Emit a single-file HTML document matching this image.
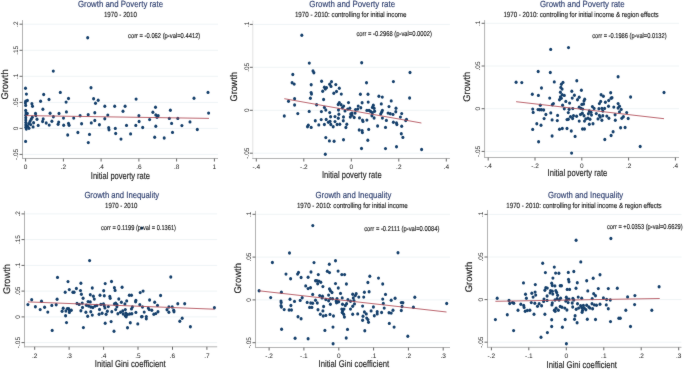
<!DOCTYPE html>
<html><head><meta charset="utf-8"><style>
html,body{margin:0;padding:0;background:#fff;}
svg{display:block;text-rendering:geometricPrecision;font-variant-ligatures:none;font-family:"Liberation Sans",sans-serif;}
</style></head><body>
<svg width="685" height="369" viewBox="0 0 685 369">
<defs><filter id="bl" x="0" y="0" width="100%" height="100%" color-interpolation-filters="sRGB"><feConvolveMatrix order="3" kernelMatrix="1 3 1 3 48 3 1 3 1" divisor="64" edgeMode="duplicate"/></filter></defs>
<g filter="url(#bl)"><rect width="685" height="369" fill="#fff"/>
<g fill="#143f6b"><line x1="23.5" y1="154.4" x2="218.0" y2="154.4" stroke="#eff4f6" stroke-width="1"/>
<line x1="23.5" y1="128.4" x2="218.0" y2="128.4" stroke="#eff4f6" stroke-width="1"/>
<line x1="23.5" y1="102.4" x2="218.0" y2="102.4" stroke="#eff4f6" stroke-width="1"/>
<line x1="23.5" y1="76.3" x2="218.0" y2="76.3" stroke="#eff4f6" stroke-width="1"/>
<line x1="23.5" y1="50.3" x2="218.0" y2="50.3" stroke="#eff4f6" stroke-width="1"/>
<line x1="23.5" y1="24.2" x2="218.0" y2="24.2" stroke="#eff4f6" stroke-width="1"/>
<ellipse cx="25.7" cy="110.5" rx="1.52" ry="1.72"/>
<ellipse cx="26.0" cy="112.9" rx="1.52" ry="1.72"/>
<ellipse cx="25.8" cy="115.3" rx="1.52" ry="1.72"/>
<ellipse cx="25.8" cy="117.7" rx="1.52" ry="1.72"/>
<ellipse cx="25.8" cy="120.1" rx="1.52" ry="1.72"/>
<ellipse cx="25.8" cy="122.5" rx="1.52" ry="1.72"/>
<ellipse cx="25.8" cy="124.9" rx="1.52" ry="1.72"/>
<ellipse cx="25.8" cy="127.3" rx="1.52" ry="1.72"/>
<ellipse cx="26.3" cy="129.0" rx="1.52" ry="1.72"/>
<ellipse cx="27.3" cy="113.5" rx="1.52" ry="1.72"/>
<ellipse cx="27.5" cy="126.2" rx="1.52" ry="1.72"/>
<ellipse cx="28.7" cy="123.8" rx="1.52" ry="1.72"/>
<ellipse cx="30.0" cy="121.4" rx="1.52" ry="1.72"/>
<ellipse cx="31.2" cy="119.3" rx="1.52" ry="1.72"/>
<ellipse cx="32.3" cy="117.2" rx="1.52" ry="1.72"/>
<ellipse cx="30.7" cy="124.6" rx="1.52" ry="1.72"/>
<ellipse cx="33.1" cy="126.9" rx="1.52" ry="1.72"/>
<ellipse cx="29.0" cy="128.2" rx="1.52" ry="1.72"/>
<ellipse cx="33.6" cy="122.8" rx="1.52" ry="1.72"/>
<ellipse cx="87.7" cy="37.8" rx="1.52" ry="1.72"/>
<ellipse cx="53.3" cy="71.1" rx="1.52" ry="1.72"/>
<ellipse cx="25.5" cy="88.3" rx="1.52" ry="1.72"/>
<ellipse cx="26.4" cy="94.1" rx="1.52" ry="1.72"/>
<ellipse cx="43.7" cy="94.5" rx="1.52" ry="1.72"/>
<ellipse cx="60.3" cy="92.4" rx="1.52" ry="1.72"/>
<ellipse cx="49.0" cy="99.5" rx="1.52" ry="1.72"/>
<ellipse cx="68.5" cy="98.5" rx="1.52" ry="1.72"/>
<ellipse cx="91.0" cy="87.7" rx="1.52" ry="1.72"/>
<ellipse cx="93.6" cy="98.8" rx="1.52" ry="1.72"/>
<ellipse cx="27.4" cy="100.5" rx="1.52" ry="1.72"/>
<ellipse cx="25.7" cy="101.3" rx="1.52" ry="1.72"/>
<ellipse cx="25.4" cy="103.1" rx="1.52" ry="1.72"/>
<ellipse cx="25.7" cy="105.4" rx="1.52" ry="1.72"/>
<ellipse cx="31.9" cy="103.7" rx="1.52" ry="1.72"/>
<ellipse cx="32.5" cy="106.3" rx="1.52" ry="1.72"/>
<ellipse cx="40.6" cy="101.3" rx="1.52" ry="1.72"/>
<ellipse cx="42.9" cy="109.3" rx="1.52" ry="1.72"/>
<ellipse cx="35.5" cy="113.5" rx="1.52" ry="1.72"/>
<ellipse cx="35.8" cy="115.6" rx="1.52" ry="1.72"/>
<ellipse cx="50.1" cy="113.2" rx="1.52" ry="1.72"/>
<ellipse cx="53.4" cy="116.8" rx="1.52" ry="1.72"/>
<ellipse cx="59.0" cy="113.5" rx="1.52" ry="1.72"/>
<ellipse cx="37.0" cy="119.2" rx="1.52" ry="1.72"/>
<ellipse cx="43.2" cy="118.9" rx="1.52" ry="1.72"/>
<ellipse cx="38.2" cy="125.4" rx="1.52" ry="1.72"/>
<ellipse cx="42.6" cy="121.5" rx="1.52" ry="1.72"/>
<ellipse cx="46.2" cy="123.0" rx="1.52" ry="1.72"/>
<ellipse cx="49.2" cy="125.1" rx="1.52" ry="1.72"/>
<ellipse cx="51.9" cy="121.2" rx="1.52" ry="1.72"/>
<ellipse cx="58.7" cy="122.1" rx="1.52" ry="1.72"/>
<ellipse cx="58.1" cy="124.2" rx="1.52" ry="1.72"/>
<ellipse cx="66.1" cy="102.1" rx="1.52" ry="1.72"/>
<ellipse cx="98.2" cy="100.2" rx="1.52" ry="1.72"/>
<ellipse cx="95.5" cy="103.2" rx="1.52" ry="1.72"/>
<ellipse cx="66.4" cy="111.9" rx="1.52" ry="1.72"/>
<ellipse cx="80.1" cy="115.8" rx="1.52" ry="1.72"/>
<ellipse cx="88.2" cy="114.7" rx="1.52" ry="1.72"/>
<ellipse cx="94.8" cy="112.7" rx="1.52" ry="1.72"/>
<ellipse cx="63.5" cy="118.1" rx="1.52" ry="1.72"/>
<ellipse cx="73.7" cy="118.1" rx="1.52" ry="1.72"/>
<ellipse cx="63.7" cy="125.2" rx="1.52" ry="1.72"/>
<ellipse cx="68.5" cy="123.4" rx="1.52" ry="1.72"/>
<ellipse cx="69.1" cy="125.3" rx="1.52" ry="1.72"/>
<ellipse cx="81.6" cy="123.8" rx="1.52" ry="1.72"/>
<ellipse cx="91.3" cy="122.9" rx="1.52" ry="1.72"/>
<ellipse cx="94.8" cy="120.5" rx="1.52" ry="1.72"/>
<ellipse cx="99.4" cy="124.7" rx="1.52" ry="1.72"/>
<ellipse cx="67.7" cy="135.0" rx="1.52" ry="1.72"/>
<ellipse cx="77.9" cy="132.5" rx="1.52" ry="1.72"/>
<ellipse cx="89.5" cy="134.4" rx="1.52" ry="1.72"/>
<ellipse cx="25.6" cy="141.4" rx="1.52" ry="1.72"/>
<ellipse cx="88.3" cy="142.6" rx="1.52" ry="1.72"/>
<ellipse cx="104.8" cy="106.3" rx="1.52" ry="1.72"/>
<ellipse cx="114.7" cy="106.3" rx="1.52" ry="1.72"/>
<ellipse cx="125.1" cy="106.3" rx="1.52" ry="1.72"/>
<ellipse cx="123.0" cy="111.3" rx="1.52" ry="1.72"/>
<ellipse cx="136.1" cy="99.1" rx="1.52" ry="1.72"/>
<ellipse cx="107.8" cy="115.1" rx="1.52" ry="1.72"/>
<ellipse cx="138.9" cy="115.7" rx="1.52" ry="1.72"/>
<ellipse cx="194.0" cy="98.2" rx="1.52" ry="1.72"/>
<ellipse cx="155.5" cy="107.3" rx="1.52" ry="1.72"/>
<ellipse cx="152.9" cy="112.3" rx="1.52" ry="1.72"/>
<ellipse cx="155.8" cy="114.9" rx="1.52" ry="1.72"/>
<ellipse cx="158.2" cy="115.8" rx="1.52" ry="1.72"/>
<ellipse cx="157.0" cy="117.2" rx="1.52" ry="1.72"/>
<ellipse cx="170.4" cy="110.2" rx="1.52" ry="1.72"/>
<ellipse cx="208.6" cy="113.1" rx="1.52" ry="1.72"/>
<ellipse cx="169.3" cy="118.4" rx="1.52" ry="1.72"/>
<ellipse cx="177.8" cy="118.4" rx="1.52" ry="1.72"/>
<ellipse cx="149.6" cy="119.6" rx="1.52" ry="1.72"/>
<ellipse cx="171.6" cy="123.4" rx="1.52" ry="1.72"/>
<ellipse cx="155.8" cy="126.2" rx="1.52" ry="1.72"/>
<ellipse cx="181.9" cy="125.6" rx="1.52" ry="1.72"/>
<ellipse cx="190.0" cy="121.9" rx="1.52" ry="1.72"/>
<ellipse cx="197.3" cy="129.5" rx="1.52" ry="1.72"/>
<ellipse cx="172.5" cy="132.4" rx="1.52" ry="1.72"/>
<ellipse cx="154.7" cy="137.3" rx="1.52" ry="1.72"/>
<ellipse cx="164.2" cy="138.0" rx="1.52" ry="1.72"/>
<ellipse cx="104.8" cy="118.8" rx="1.52" ry="1.72"/>
<ellipse cx="108.7" cy="127.8" rx="1.52" ry="1.72"/>
<ellipse cx="109.0" cy="129.8" rx="1.52" ry="1.72"/>
<ellipse cx="115.3" cy="128.4" rx="1.52" ry="1.72"/>
<ellipse cx="115.7" cy="133.5" rx="1.52" ry="1.72"/>
<ellipse cx="121.0" cy="139.1" rx="1.52" ry="1.72"/>
<ellipse cx="126.5" cy="125.4" rx="1.52" ry="1.72"/>
<ellipse cx="130.6" cy="133.9" rx="1.52" ry="1.72"/>
<ellipse cx="135.8" cy="125.4" rx="1.52" ry="1.72"/>
<ellipse cx="139.1" cy="121.5" rx="1.52" ry="1.72"/>
<ellipse cx="142.7" cy="127.5" rx="1.52" ry="1.72"/>
<ellipse cx="208.0" cy="92.4" rx="1.52" ry="1.72"/>
<line x1="25.6" y1="115.6" x2="209.0" y2="118.4" stroke="#b04a55" stroke-width="0.85"/>
<line x1="22.5" y1="20.1" x2="22.5" y2="159.0" stroke="#b2b2b2" stroke-width="1"/>
<line x1="22.0" y1="158.5" x2="218.0" y2="158.5" stroke="#b2b2b2" stroke-width="1"/>
<line x1="19.5" y1="154.4" x2="22.5" y2="154.4" stroke="#666666" stroke-width="1"/>
<text transform="translate(17.5,154.4) rotate(-90)" font-size="6.5" fill="#1a1a1a" stroke="#1a1a1a" stroke-width="0" text-anchor="middle">-.05</text>
<line x1="19.5" y1="128.4" x2="22.5" y2="128.4" stroke="#666666" stroke-width="1"/>
<text transform="translate(17.5,128.4) rotate(-90)" font-size="6.5" fill="#1a1a1a" stroke="#1a1a1a" stroke-width="0" text-anchor="middle">0</text>
<line x1="19.5" y1="102.4" x2="22.5" y2="102.4" stroke="#666666" stroke-width="1"/>
<text transform="translate(17.5,102.4) rotate(-90)" font-size="6.5" fill="#1a1a1a" stroke="#1a1a1a" stroke-width="0" text-anchor="middle">.05</text>
<line x1="19.5" y1="76.3" x2="22.5" y2="76.3" stroke="#666666" stroke-width="1"/>
<text transform="translate(17.5,76.3) rotate(-90)" font-size="6.5" fill="#1a1a1a" stroke="#1a1a1a" stroke-width="0" text-anchor="middle">.1</text>
<line x1="19.5" y1="50.3" x2="22.5" y2="50.3" stroke="#666666" stroke-width="1"/>
<text transform="translate(17.5,50.3) rotate(-90)" font-size="6.5" fill="#1a1a1a" stroke="#1a1a1a" stroke-width="0" text-anchor="middle">.15</text>
<line x1="19.5" y1="24.2" x2="22.5" y2="24.2" stroke="#666666" stroke-width="1"/>
<text transform="translate(17.5,24.2) rotate(-90)" font-size="6.5" fill="#1a1a1a" stroke="#1a1a1a" stroke-width="0" text-anchor="middle">.2</text>
<line x1="25.6" y1="158.5" x2="25.6" y2="161.5" stroke="#666666" stroke-width="1"/>
<text x="25.6" y="168.8" font-size="6.5" fill="#1a1a1a" stroke="#1a1a1a" stroke-width="0" text-anchor="middle">0</text>
<line x1="63.4" y1="158.5" x2="63.4" y2="161.5" stroke="#666666" stroke-width="1"/>
<text x="63.4" y="168.8" font-size="6.5" fill="#1a1a1a" stroke="#1a1a1a" stroke-width="0" text-anchor="middle">.2</text>
<line x1="101.1" y1="158.5" x2="101.1" y2="161.5" stroke="#666666" stroke-width="1"/>
<text x="101.1" y="168.8" font-size="6.5" fill="#1a1a1a" stroke="#1a1a1a" stroke-width="0" text-anchor="middle">.4</text>
<line x1="138.9" y1="158.5" x2="138.9" y2="161.5" stroke="#666666" stroke-width="1"/>
<text x="138.9" y="168.8" font-size="6.5" fill="#1a1a1a" stroke="#1a1a1a" stroke-width="0" text-anchor="middle">.6</text>
<line x1="176.6" y1="158.5" x2="176.6" y2="161.5" stroke="#666666" stroke-width="1"/>
<text x="176.6" y="168.8" font-size="6.5" fill="#1a1a1a" stroke="#1a1a1a" stroke-width="0" text-anchor="middle">.8</text>
<line x1="214.4" y1="158.5" x2="214.4" y2="161.5" stroke="#666666" stroke-width="1"/>
<text x="214.4" y="168.8" font-size="6.5" fill="#1a1a1a" stroke="#1a1a1a" stroke-width="0" text-anchor="middle">1</text>
<text x="78.0" y="7.3" font-size="9.0" fill="#2d3e6e" stroke="#2d3e6e" stroke-width="0.15" textLength="85.0" lengthAdjust="spacingAndGlyphs">Growth and Poverty rate</text>
<text x="103.9" y="17.4" font-size="7.4" fill="#1a1a1a" stroke="#1a1a1a" stroke-width="0.15" textLength="33.0" lengthAdjust="spacingAndGlyphs">1970 - 2010</text>
<text x="128.0" y="37.7" font-size="7.0" fill="#1a1a1a" stroke="#1a1a1a" stroke-width="0.15" textLength="72.3" lengthAdjust="spacingAndGlyphs">corr = -0.062 (p-val=0.4412)</text>
<text x="90.8" y="178.7" font-size="9.7" fill="#1a1a1a" stroke="#1a1a1a" stroke-width="0.15" textLength="59.2" lengthAdjust="spacingAndGlyphs">Initial poverty rate</text>
<text transform="translate(8.1,99.5) rotate(-90)" font-size="9.7" fill="#1a1a1a" stroke="#1a1a1a" stroke-width="0.15" textLength="30.1" lengthAdjust="spacingAndGlyphs">Growth</text></g>
<g fill="#143f6b"><line x1="253.8" y1="153.2" x2="449.9" y2="153.2" stroke="#eff4f6" stroke-width="1"/>
<line x1="253.8" y1="110.3" x2="449.9" y2="110.3" stroke="#eff4f6" stroke-width="1"/>
<line x1="253.8" y1="67.3" x2="449.9" y2="67.3" stroke="#eff4f6" stroke-width="1"/>
<line x1="253.8" y1="24.4" x2="449.9" y2="24.4" stroke="#eff4f6" stroke-width="1"/>
<ellipse cx="301.8" cy="35.2" rx="1.52" ry="1.72"/>
<ellipse cx="309.3" cy="63.1" rx="1.52" ry="1.72"/>
<ellipse cx="292.8" cy="74.5" rx="1.52" ry="1.72"/>
<ellipse cx="292.1" cy="82.7" rx="1.52" ry="1.72"/>
<ellipse cx="294.2" cy="84.1" rx="1.52" ry="1.72"/>
<ellipse cx="311.2" cy="84.7" rx="1.52" ry="1.72"/>
<ellipse cx="288.5" cy="101.3" rx="1.52" ry="1.72"/>
<ellipse cx="294.6" cy="98.7" rx="1.52" ry="1.72"/>
<ellipse cx="294.6" cy="105.0" rx="1.52" ry="1.72"/>
<ellipse cx="297.8" cy="113.6" rx="1.52" ry="1.72"/>
<ellipse cx="284.3" cy="116.0" rx="1.52" ry="1.72"/>
<ellipse cx="309.2" cy="111.4" rx="1.52" ry="1.72"/>
<ellipse cx="310.4" cy="98.3" rx="1.52" ry="1.72"/>
<ellipse cx="311.1" cy="92.6" rx="1.52" ry="1.72"/>
<ellipse cx="311.5" cy="94.1" rx="1.52" ry="1.72"/>
<ellipse cx="308.3" cy="125.2" rx="1.52" ry="1.72"/>
<ellipse cx="307.5" cy="126.7" rx="1.52" ry="1.72"/>
<ellipse cx="311.2" cy="127.4" rx="1.52" ry="1.72"/>
<ellipse cx="361.7" cy="62.8" rx="1.52" ry="1.72"/>
<ellipse cx="313.0" cy="71.0" rx="1.52" ry="1.72"/>
<ellipse cx="313.9" cy="72.8" rx="1.52" ry="1.72"/>
<ellipse cx="321.6" cy="81.3" rx="1.52" ry="1.72"/>
<ellipse cx="331.5" cy="81.8" rx="1.52" ry="1.72"/>
<ellipse cx="329.7" cy="84.2" rx="1.52" ry="1.72"/>
<ellipse cx="331.0" cy="86.4" rx="1.52" ry="1.72"/>
<ellipse cx="335.8" cy="84.6" rx="1.52" ry="1.72"/>
<ellipse cx="324.4" cy="87.3" rx="1.52" ry="1.72"/>
<ellipse cx="326.5" cy="87.7" rx="1.52" ry="1.72"/>
<ellipse cx="325.3" cy="89.0" rx="1.52" ry="1.72"/>
<ellipse cx="322.7" cy="91.2" rx="1.52" ry="1.72"/>
<ellipse cx="339.3" cy="88.3" rx="1.52" ry="1.72"/>
<ellipse cx="336.5" cy="91.5" rx="1.52" ry="1.72"/>
<ellipse cx="333.8" cy="93.2" rx="1.52" ry="1.72"/>
<ellipse cx="341.3" cy="94.1" rx="1.52" ry="1.72"/>
<ellipse cx="366.5" cy="82.7" rx="1.52" ry="1.72"/>
<ellipse cx="360.4" cy="94.3" rx="1.52" ry="1.72"/>
<ellipse cx="368.0" cy="94.3" rx="1.52" ry="1.72"/>
<ellipse cx="323.6" cy="99.5" rx="1.52" ry="1.72"/>
<ellipse cx="316.6" cy="104.8" rx="1.52" ry="1.72"/>
<ellipse cx="324.4" cy="107.4" rx="1.52" ry="1.72"/>
<ellipse cx="325.8" cy="110.0" rx="1.52" ry="1.72"/>
<ellipse cx="321.4" cy="111.6" rx="1.52" ry="1.72"/>
<ellipse cx="329.7" cy="112.6" rx="1.52" ry="1.72"/>
<ellipse cx="330.6" cy="116.8" rx="1.52" ry="1.72"/>
<ellipse cx="326.2" cy="119.5" rx="1.52" ry="1.72"/>
<ellipse cx="321.2" cy="119.6" rx="1.52" ry="1.72"/>
<ellipse cx="315.3" cy="120.8" rx="1.52" ry="1.72"/>
<ellipse cx="318.8" cy="124.9" rx="1.52" ry="1.72"/>
<ellipse cx="324.4" cy="124.5" rx="1.52" ry="1.72"/>
<ellipse cx="328.4" cy="122.3" rx="1.52" ry="1.72"/>
<ellipse cx="330.1" cy="121.4" rx="1.52" ry="1.72"/>
<ellipse cx="330.8" cy="124.5" rx="1.52" ry="1.72"/>
<ellipse cx="333.2" cy="126.8" rx="1.52" ry="1.72"/>
<ellipse cx="335.0" cy="116.6" rx="1.52" ry="1.72"/>
<ellipse cx="335.0" cy="121.6" rx="1.52" ry="1.72"/>
<ellipse cx="337.1" cy="124.5" rx="1.52" ry="1.72"/>
<ellipse cx="339.8" cy="124.2" rx="1.52" ry="1.72"/>
<ellipse cx="338.5" cy="110.0" rx="1.52" ry="1.72"/>
<ellipse cx="338.9" cy="114.2" rx="1.52" ry="1.72"/>
<ellipse cx="338.3" cy="118.3" rx="1.52" ry="1.72"/>
<ellipse cx="339.3" cy="102.6" rx="1.52" ry="1.72"/>
<ellipse cx="338.2" cy="104.5" rx="1.52" ry="1.72"/>
<ellipse cx="341.1" cy="104.8" rx="1.52" ry="1.72"/>
<ellipse cx="343.7" cy="106.1" rx="1.52" ry="1.72"/>
<ellipse cx="342.4" cy="107.8" rx="1.52" ry="1.72"/>
<ellipse cx="348.5" cy="102.6" rx="1.52" ry="1.72"/>
<ellipse cx="345.0" cy="110.9" rx="1.52" ry="1.72"/>
<ellipse cx="343.5" cy="117.0" rx="1.52" ry="1.72"/>
<ellipse cx="343.3" cy="120.8" rx="1.52" ry="1.72"/>
<ellipse cx="346.8" cy="124.2" rx="1.52" ry="1.72"/>
<ellipse cx="345.9" cy="127.5" rx="1.52" ry="1.72"/>
<ellipse cx="347.7" cy="109.1" rx="1.52" ry="1.72"/>
<ellipse cx="349.8" cy="108.3" rx="1.52" ry="1.72"/>
<ellipse cx="350.7" cy="114.0" rx="1.52" ry="1.72"/>
<ellipse cx="352.0" cy="113.1" rx="1.52" ry="1.72"/>
<ellipse cx="350.3" cy="117.0" rx="1.52" ry="1.72"/>
<ellipse cx="352.0" cy="115.3" rx="1.52" ry="1.72"/>
<ellipse cx="354.2" cy="117.5" rx="1.52" ry="1.72"/>
<ellipse cx="355.1" cy="113.1" rx="1.52" ry="1.72"/>
<ellipse cx="355.5" cy="109.6" rx="1.52" ry="1.72"/>
<ellipse cx="357.7" cy="109.1" rx="1.52" ry="1.72"/>
<ellipse cx="358.2" cy="106.1" rx="1.52" ry="1.72"/>
<ellipse cx="360.8" cy="107.8" rx="1.52" ry="1.72"/>
<ellipse cx="362.1" cy="102.8" rx="1.52" ry="1.72"/>
<ellipse cx="359.5" cy="117.9" rx="1.52" ry="1.72"/>
<ellipse cx="362.5" cy="120.1" rx="1.52" ry="1.72"/>
<ellipse cx="363.0" cy="121.4" rx="1.52" ry="1.72"/>
<ellipse cx="366.9" cy="120.1" rx="1.52" ry="1.72"/>
<ellipse cx="368.2" cy="102.1" rx="1.52" ry="1.72"/>
<ellipse cx="366.9" cy="110.4" rx="1.52" ry="1.72"/>
<ellipse cx="369.1" cy="110.4" rx="1.52" ry="1.72"/>
<ellipse cx="359.2" cy="130.0" rx="1.52" ry="1.72"/>
<ellipse cx="362.1" cy="130.6" rx="1.52" ry="1.72"/>
<ellipse cx="362.4" cy="132.6" rx="1.52" ry="1.72"/>
<ellipse cx="368.7" cy="129.4" rx="1.52" ry="1.72"/>
<ellipse cx="325.8" cy="137.6" rx="1.52" ry="1.72"/>
<ellipse cx="329.4" cy="140.9" rx="1.52" ry="1.72"/>
<ellipse cx="334.1" cy="141.3" rx="1.52" ry="1.72"/>
<ellipse cx="343.5" cy="139.8" rx="1.52" ry="1.72"/>
<ellipse cx="367.8" cy="140.2" rx="1.52" ry="1.72"/>
<ellipse cx="361.5" cy="148.5" rx="1.52" ry="1.72"/>
<ellipse cx="325.3" cy="154.2" rx="1.52" ry="1.72"/>
<ellipse cx="410.0" cy="72.5" rx="1.52" ry="1.72"/>
<ellipse cx="393.4" cy="81.6" rx="1.52" ry="1.72"/>
<ellipse cx="378.9" cy="96.3" rx="1.52" ry="1.72"/>
<ellipse cx="382.3" cy="97.1" rx="1.52" ry="1.72"/>
<ellipse cx="391.2" cy="100.9" rx="1.52" ry="1.72"/>
<ellipse cx="409.6" cy="98.0" rx="1.52" ry="1.72"/>
<ellipse cx="381.3" cy="103.9" rx="1.52" ry="1.72"/>
<ellipse cx="373.3" cy="105.3" rx="1.52" ry="1.72"/>
<ellipse cx="372.4" cy="107.4" rx="1.52" ry="1.72"/>
<ellipse cx="374.1" cy="108.3" rx="1.52" ry="1.72"/>
<ellipse cx="389.0" cy="106.6" rx="1.52" ry="1.72"/>
<ellipse cx="396.0" cy="108.3" rx="1.52" ry="1.72"/>
<ellipse cx="370.6" cy="111.4" rx="1.52" ry="1.72"/>
<ellipse cx="374.6" cy="111.2" rx="1.52" ry="1.72"/>
<ellipse cx="372.4" cy="112.7" rx="1.52" ry="1.72"/>
<ellipse cx="382.4" cy="110.5" rx="1.52" ry="1.72"/>
<ellipse cx="381.6" cy="112.3" rx="1.52" ry="1.72"/>
<ellipse cx="380.7" cy="114.0" rx="1.52" ry="1.72"/>
<ellipse cx="388.1" cy="113.1" rx="1.52" ry="1.72"/>
<ellipse cx="390.3" cy="113.8" rx="1.52" ry="1.72"/>
<ellipse cx="393.0" cy="114.4" rx="1.52" ry="1.72"/>
<ellipse cx="395.8" cy="111.8" rx="1.52" ry="1.72"/>
<ellipse cx="401.7" cy="113.6" rx="1.52" ry="1.72"/>
<ellipse cx="400.4" cy="117.1" rx="1.52" ry="1.72"/>
<ellipse cx="406.5" cy="119.4" rx="1.52" ry="1.72"/>
<ellipse cx="405.7" cy="120.6" rx="1.52" ry="1.72"/>
<ellipse cx="371.9" cy="115.8" rx="1.52" ry="1.72"/>
<ellipse cx="374.1" cy="118.0" rx="1.52" ry="1.72"/>
<ellipse cx="382.4" cy="118.1" rx="1.52" ry="1.72"/>
<ellipse cx="386.4" cy="120.4" rx="1.52" ry="1.72"/>
<ellipse cx="393.4" cy="122.3" rx="1.52" ry="1.72"/>
<ellipse cx="396.5" cy="122.9" rx="1.52" ry="1.72"/>
<ellipse cx="396.9" cy="124.5" rx="1.52" ry="1.72"/>
<ellipse cx="377.6" cy="126.0" rx="1.52" ry="1.72"/>
<ellipse cx="385.5" cy="127.4" rx="1.52" ry="1.72"/>
<ellipse cx="401.7" cy="126.3" rx="1.52" ry="1.72"/>
<ellipse cx="401.3" cy="133.7" rx="1.52" ry="1.72"/>
<ellipse cx="402.9" cy="137.4" rx="1.52" ry="1.72"/>
<ellipse cx="385.5" cy="148.6" rx="1.52" ry="1.72"/>
<ellipse cx="396.5" cy="146.8" rx="1.52" ry="1.72"/>
<ellipse cx="421.6" cy="149.5" rx="1.52" ry="1.72"/>
<line x1="284.3" y1="98.7" x2="421.4" y2="123.0" stroke="#b04a55" stroke-width="0.85"/>
<line x1="252.8" y1="20.6" x2="252.8" y2="159.0" stroke="#e2e2e2" stroke-width="1"/>
<line x1="252.3" y1="158.5" x2="449.9" y2="158.5" stroke="#b2b2b2" stroke-width="1"/>
<line x1="249.8" y1="153.2" x2="252.8" y2="153.2" stroke="#666666" stroke-width="1"/>
<text transform="translate(248.5,153.2) rotate(-90)" font-size="6.5" fill="#1a1a1a" stroke="#1a1a1a" stroke-width="0" text-anchor="middle">-.05</text>
<line x1="249.8" y1="110.3" x2="252.8" y2="110.3" stroke="#666666" stroke-width="1"/>
<text transform="translate(248.5,110.3) rotate(-90)" font-size="6.5" fill="#1a1a1a" stroke="#1a1a1a" stroke-width="0" text-anchor="middle">0</text>
<line x1="249.8" y1="67.3" x2="252.8" y2="67.3" stroke="#666666" stroke-width="1"/>
<text transform="translate(248.5,67.3) rotate(-90)" font-size="6.5" fill="#1a1a1a" stroke="#1a1a1a" stroke-width="0" text-anchor="middle">.05</text>
<line x1="249.8" y1="24.4" x2="252.8" y2="24.4" stroke="#666666" stroke-width="1"/>
<text transform="translate(248.5,24.4) rotate(-90)" font-size="6.5" fill="#1a1a1a" stroke="#1a1a1a" stroke-width="0" text-anchor="middle">.1</text>
<line x1="256.3" y1="158.5" x2="256.3" y2="161.5" stroke="#666666" stroke-width="1"/>
<text x="256.3" y="169.3" font-size="6.5" fill="#1a1a1a" stroke="#1a1a1a" stroke-width="0" text-anchor="middle">-.4</text>
<line x1="303.8" y1="158.5" x2="303.8" y2="161.5" stroke="#666666" stroke-width="1"/>
<text x="303.8" y="169.3" font-size="6.5" fill="#1a1a1a" stroke="#1a1a1a" stroke-width="0" text-anchor="middle">-.2</text>
<line x1="351.3" y1="158.5" x2="351.3" y2="161.5" stroke="#666666" stroke-width="1"/>
<text x="351.3" y="169.3" font-size="6.5" fill="#1a1a1a" stroke="#1a1a1a" stroke-width="0" text-anchor="middle">0</text>
<line x1="398.8" y1="158.5" x2="398.8" y2="161.5" stroke="#666666" stroke-width="1"/>
<text x="398.8" y="169.3" font-size="6.5" fill="#1a1a1a" stroke="#1a1a1a" stroke-width="0" text-anchor="middle">.2</text>
<line x1="446.3" y1="158.5" x2="446.3" y2="161.5" stroke="#666666" stroke-width="1"/>
<text x="446.3" y="169.3" font-size="6.5" fill="#1a1a1a" stroke="#1a1a1a" stroke-width="0" text-anchor="middle">.4</text>
<text x="309.3" y="7.2" font-size="9.0" fill="#2d3e6e" stroke="#2d3e6e" stroke-width="0.15" textLength="85.8" lengthAdjust="spacingAndGlyphs">Growth and Poverty rate</text>
<text x="294.9" y="17.3" font-size="7.4" fill="#1a1a1a" stroke="#1a1a1a" stroke-width="0.15" textLength="111.6" lengthAdjust="spacingAndGlyphs">1970 - 2010: controlling for initial income</text>
<text x="356.4" y="35.9" font-size="7.0" fill="#1a1a1a" stroke="#1a1a1a" stroke-width="0.15" textLength="75.5" lengthAdjust="spacingAndGlyphs">corr = -0.2968 (p-val=0.0002)</text>
<text x="322.0" y="178.0" font-size="9.7" fill="#1a1a1a" stroke="#1a1a1a" stroke-width="0.15" textLength="59.6" lengthAdjust="spacingAndGlyphs">Initial poverty rate</text>
<text transform="translate(237.2,101.4) rotate(-90)" font-size="9.7" fill="#1a1a1a" stroke="#1a1a1a" stroke-width="0.15" textLength="29.4" lengthAdjust="spacingAndGlyphs">Growth</text></g>
<g fill="#143f6b"><line x1="485.6" y1="151.4" x2="679.0" y2="151.4" stroke="#eff4f6" stroke-width="1"/>
<line x1="485.6" y1="108.7" x2="679.0" y2="108.7" stroke="#eff4f6" stroke-width="1"/>
<line x1="485.6" y1="66.0" x2="679.0" y2="66.0" stroke="#eff4f6" stroke-width="1"/>
<line x1="485.6" y1="23.3" x2="679.0" y2="23.3" stroke="#eff4f6" stroke-width="1"/>
<ellipse cx="550.7" cy="49.4" rx="1.52" ry="1.72"/>
<ellipse cx="568.5" cy="47.6" rx="1.52" ry="1.72"/>
<ellipse cx="538.2" cy="71.5" rx="1.52" ry="1.72"/>
<ellipse cx="516.1" cy="82.2" rx="1.52" ry="1.72"/>
<ellipse cx="521.8" cy="82.6" rx="1.52" ry="1.72"/>
<ellipse cx="541.5" cy="88.0" rx="1.52" ry="1.72"/>
<ellipse cx="532.3" cy="94.3" rx="1.52" ry="1.72"/>
<ellipse cx="538.4" cy="95.4" rx="1.52" ry="1.72"/>
<ellipse cx="540.3" cy="105.2" rx="1.52" ry="1.72"/>
<ellipse cx="532.7" cy="109.1" rx="1.52" ry="1.72"/>
<ellipse cx="533.2" cy="112.4" rx="1.52" ry="1.72"/>
<ellipse cx="538.0" cy="109.6" rx="1.52" ry="1.72"/>
<ellipse cx="539.7" cy="109.8" rx="1.52" ry="1.72"/>
<ellipse cx="541.5" cy="109.8" rx="1.52" ry="1.72"/>
<ellipse cx="543.7" cy="110.0" rx="1.52" ry="1.72"/>
<ellipse cx="544.1" cy="118.6" rx="1.52" ry="1.72"/>
<ellipse cx="536.8" cy="123.8" rx="1.52" ry="1.72"/>
<ellipse cx="541.0" cy="125.2" rx="1.52" ry="1.72"/>
<ellipse cx="532.7" cy="129.4" rx="1.52" ry="1.72"/>
<ellipse cx="538.6" cy="141.8" rx="1.52" ry="1.72"/>
<ellipse cx="550.3" cy="72.5" rx="1.52" ry="1.72"/>
<ellipse cx="554.3" cy="81.9" rx="1.52" ry="1.72"/>
<ellipse cx="563.0" cy="82.4" rx="1.52" ry="1.72"/>
<ellipse cx="561.4" cy="84.3" rx="1.52" ry="1.72"/>
<ellipse cx="560.8" cy="87.4" rx="1.52" ry="1.72"/>
<ellipse cx="562.1" cy="89.1" rx="1.52" ry="1.72"/>
<ellipse cx="560.4" cy="92.2" rx="1.52" ry="1.72"/>
<ellipse cx="576.8" cy="80.8" rx="1.52" ry="1.72"/>
<ellipse cx="571.8" cy="91.3" rx="1.52" ry="1.72"/>
<ellipse cx="581.4" cy="90.3" rx="1.52" ry="1.72"/>
<ellipse cx="549.7" cy="98.1" rx="1.52" ry="1.72"/>
<ellipse cx="562.1" cy="94.8" rx="1.52" ry="1.72"/>
<ellipse cx="564.3" cy="95.4" rx="1.52" ry="1.72"/>
<ellipse cx="560.4" cy="97.0" rx="1.52" ry="1.72"/>
<ellipse cx="561.3" cy="98.3" rx="1.52" ry="1.72"/>
<ellipse cx="559.5" cy="99.8" rx="1.52" ry="1.72"/>
<ellipse cx="574.4" cy="95.3" rx="1.52" ry="1.72"/>
<ellipse cx="572.2" cy="98.1" rx="1.52" ry="1.72"/>
<ellipse cx="579.2" cy="97.2" rx="1.52" ry="1.72"/>
<ellipse cx="577.5" cy="99.8" rx="1.52" ry="1.72"/>
<ellipse cx="565.8" cy="101.4" rx="1.52" ry="1.72"/>
<ellipse cx="569.6" cy="103.1" rx="1.52" ry="1.72"/>
<ellipse cx="584.7" cy="99.2" rx="1.52" ry="1.72"/>
<ellipse cx="584.0" cy="100.9" rx="1.52" ry="1.72"/>
<ellipse cx="601.1" cy="94.8" rx="1.52" ry="1.72"/>
<ellipse cx="553.4" cy="103.6" rx="1.52" ry="1.72"/>
<ellipse cx="552.3" cy="104.7" rx="1.52" ry="1.72"/>
<ellipse cx="562.6" cy="105.3" rx="1.52" ry="1.72"/>
<ellipse cx="564.3" cy="108.8" rx="1.52" ry="1.72"/>
<ellipse cx="569.1" cy="109.3" rx="1.52" ry="1.72"/>
<ellipse cx="572.8" cy="108.6" rx="1.52" ry="1.72"/>
<ellipse cx="568.3" cy="112.6" rx="1.52" ry="1.72"/>
<ellipse cx="581.8" cy="104.4" rx="1.52" ry="1.72"/>
<ellipse cx="583.6" cy="104.0" rx="1.52" ry="1.72"/>
<ellipse cx="579.2" cy="107.3" rx="1.52" ry="1.72"/>
<ellipse cx="581.0" cy="108.4" rx="1.52" ry="1.72"/>
<ellipse cx="582.7" cy="109.1" rx="1.52" ry="1.72"/>
<ellipse cx="599.4" cy="103.6" rx="1.52" ry="1.72"/>
<ellipse cx="600.7" cy="101.4" rx="1.52" ry="1.72"/>
<ellipse cx="592.4" cy="106.6" rx="1.52" ry="1.72"/>
<ellipse cx="594.1" cy="108.4" rx="1.52" ry="1.72"/>
<ellipse cx="598.9" cy="108.8" rx="1.52" ry="1.72"/>
<ellipse cx="589.3" cy="111.0" rx="1.52" ry="1.72"/>
<ellipse cx="591.0" cy="112.3" rx="1.52" ry="1.72"/>
<ellipse cx="588.4" cy="113.8" rx="1.52" ry="1.72"/>
<ellipse cx="591.5" cy="115.0" rx="1.52" ry="1.72"/>
<ellipse cx="596.3" cy="113.6" rx="1.52" ry="1.72"/>
<ellipse cx="545.9" cy="114.5" rx="1.52" ry="1.72"/>
<ellipse cx="550.8" cy="112.9" rx="1.52" ry="1.72"/>
<ellipse cx="557.6" cy="115.4" rx="1.52" ry="1.72"/>
<ellipse cx="580.5" cy="114.5" rx="1.52" ry="1.72"/>
<ellipse cx="582.3" cy="113.2" rx="1.52" ry="1.72"/>
<ellipse cx="584.0" cy="115.8" rx="1.52" ry="1.72"/>
<ellipse cx="570.5" cy="116.7" rx="1.52" ry="1.72"/>
<ellipse cx="573.5" cy="115.8" rx="1.52" ry="1.72"/>
<ellipse cx="576.6" cy="116.3" rx="1.52" ry="1.72"/>
<ellipse cx="572.6" cy="118.5" rx="1.52" ry="1.72"/>
<ellipse cx="567.0" cy="119.6" rx="1.52" ry="1.72"/>
<ellipse cx="568.3" cy="119.3" rx="1.52" ry="1.72"/>
<ellipse cx="552.1" cy="119.9" rx="1.52" ry="1.72"/>
<ellipse cx="557.3" cy="120.6" rx="1.52" ry="1.72"/>
<ellipse cx="579.2" cy="121.1" rx="1.52" ry="1.72"/>
<ellipse cx="585.8" cy="118.9" rx="1.52" ry="1.72"/>
<ellipse cx="588.0" cy="118.2" rx="1.52" ry="1.72"/>
<ellipse cx="590.0" cy="119.3" rx="1.52" ry="1.72"/>
<ellipse cx="599.4" cy="115.4" rx="1.52" ry="1.72"/>
<ellipse cx="600.2" cy="117.1" rx="1.52" ry="1.72"/>
<ellipse cx="598.0" cy="118.9" rx="1.52" ry="1.72"/>
<ellipse cx="584.5" cy="121.1" rx="1.52" ry="1.72"/>
<ellipse cx="589.3" cy="124.3" rx="1.52" ry="1.72"/>
<ellipse cx="593.0" cy="123.7" rx="1.52" ry="1.72"/>
<ellipse cx="559.5" cy="129.2" rx="1.52" ry="1.72"/>
<ellipse cx="562.3" cy="128.5" rx="1.52" ry="1.72"/>
<ellipse cx="567.0" cy="128.5" rx="1.52" ry="1.72"/>
<ellipse cx="571.3" cy="131.0" rx="1.52" ry="1.72"/>
<ellipse cx="582.5" cy="129.0" rx="1.52" ry="1.72"/>
<ellipse cx="584.5" cy="129.0" rx="1.52" ry="1.72"/>
<ellipse cx="552.1" cy="136.0" rx="1.52" ry="1.72"/>
<ellipse cx="575.1" cy="136.4" rx="1.52" ry="1.72"/>
<ellipse cx="618.1" cy="76.7" rx="1.52" ry="1.72"/>
<ellipse cx="610.7" cy="92.8" rx="1.52" ry="1.72"/>
<ellipse cx="603.4" cy="96.3" rx="1.52" ry="1.72"/>
<ellipse cx="612.0" cy="97.7" rx="1.52" ry="1.72"/>
<ellipse cx="611.0" cy="98.3" rx="1.52" ry="1.72"/>
<ellipse cx="630.6" cy="97.0" rx="1.52" ry="1.72"/>
<ellipse cx="608.7" cy="100.5" rx="1.52" ry="1.72"/>
<ellipse cx="605.4" cy="102.3" rx="1.52" ry="1.72"/>
<ellipse cx="608.5" cy="106.2" rx="1.52" ry="1.72"/>
<ellipse cx="613.8" cy="107.1" rx="1.52" ry="1.72"/>
<ellipse cx="618.1" cy="103.6" rx="1.52" ry="1.72"/>
<ellipse cx="619.5" cy="106.2" rx="1.52" ry="1.72"/>
<ellipse cx="618.1" cy="108.0" rx="1.52" ry="1.72"/>
<ellipse cx="621.2" cy="109.4" rx="1.52" ry="1.72"/>
<ellipse cx="604.6" cy="108.4" rx="1.52" ry="1.72"/>
<ellipse cx="601.9" cy="108.4" rx="1.52" ry="1.72"/>
<ellipse cx="602.8" cy="111.0" rx="1.52" ry="1.72"/>
<ellipse cx="619.5" cy="111.9" rx="1.52" ry="1.72"/>
<ellipse cx="626.7" cy="112.6" rx="1.52" ry="1.72"/>
<ellipse cx="615.1" cy="114.7" rx="1.52" ry="1.72"/>
<ellipse cx="602.8" cy="115.8" rx="1.52" ry="1.72"/>
<ellipse cx="606.8" cy="116.1" rx="1.52" ry="1.72"/>
<ellipse cx="608.9" cy="118.2" rx="1.52" ry="1.72"/>
<ellipse cx="623.4" cy="116.7" rx="1.52" ry="1.72"/>
<ellipse cx="621.8" cy="118.2" rx="1.52" ry="1.72"/>
<ellipse cx="628.2" cy="118.5" rx="1.52" ry="1.72"/>
<ellipse cx="615.3" cy="120.2" rx="1.52" ry="1.72"/>
<ellipse cx="601.9" cy="120.2" rx="1.52" ry="1.72"/>
<ellipse cx="620.6" cy="127.8" rx="1.52" ry="1.72"/>
<ellipse cx="625.1" cy="127.5" rx="1.52" ry="1.72"/>
<ellipse cx="613.1" cy="131.8" rx="1.52" ry="1.72"/>
<ellipse cx="611.1" cy="135.5" rx="1.52" ry="1.72"/>
<ellipse cx="604.8" cy="139.5" rx="1.52" ry="1.72"/>
<ellipse cx="640.2" cy="146.5" rx="1.52" ry="1.72"/>
<ellipse cx="664.0" cy="92.5" rx="1.52" ry="1.72"/>
<ellipse cx="571.6" cy="153.1" rx="1.52" ry="1.72"/>
<line x1="516.1" y1="101.7" x2="664.0" y2="118.7" stroke="#b04a55" stroke-width="0.85"/>
<line x1="484.6" y1="20.1" x2="484.6" y2="158.0" stroke="#b2b2b2" stroke-width="1"/>
<line x1="484.1" y1="157.5" x2="679.0" y2="157.5" stroke="#b2b2b2" stroke-width="1"/>
<line x1="481.6" y1="151.4" x2="484.6" y2="151.4" stroke="#666666" stroke-width="1"/>
<text transform="translate(480.2,151.4) rotate(-90)" font-size="6.5" fill="#1a1a1a" stroke="#1a1a1a" stroke-width="0" text-anchor="middle">-.05</text>
<line x1="481.6" y1="108.7" x2="484.6" y2="108.7" stroke="#666666" stroke-width="1"/>
<text transform="translate(480.2,108.7) rotate(-90)" font-size="6.5" fill="#1a1a1a" stroke="#1a1a1a" stroke-width="0" text-anchor="middle">0</text>
<line x1="481.6" y1="66.0" x2="484.6" y2="66.0" stroke="#666666" stroke-width="1"/>
<text transform="translate(480.2,66.0) rotate(-90)" font-size="6.5" fill="#1a1a1a" stroke="#1a1a1a" stroke-width="0" text-anchor="middle">.05</text>
<line x1="481.6" y1="23.3" x2="484.6" y2="23.3" stroke="#666666" stroke-width="1"/>
<text transform="translate(480.2,23.3) rotate(-90)" font-size="6.5" fill="#1a1a1a" stroke="#1a1a1a" stroke-width="0" text-anchor="middle">.1</text>
<line x1="488.2" y1="157.5" x2="488.2" y2="160.5" stroke="#666666" stroke-width="1"/>
<text x="488.2" y="167.8" font-size="6.5" fill="#1a1a1a" stroke="#1a1a1a" stroke-width="0" text-anchor="middle">-.4</text>
<line x1="535.0" y1="157.5" x2="535.0" y2="160.5" stroke="#666666" stroke-width="1"/>
<text x="535.0" y="167.8" font-size="6.5" fill="#1a1a1a" stroke="#1a1a1a" stroke-width="0" text-anchor="middle">-.2</text>
<line x1="581.8" y1="157.5" x2="581.8" y2="160.5" stroke="#666666" stroke-width="1"/>
<text x="581.8" y="167.8" font-size="6.5" fill="#1a1a1a" stroke="#1a1a1a" stroke-width="0" text-anchor="middle">0</text>
<line x1="628.6" y1="157.5" x2="628.6" y2="160.5" stroke="#666666" stroke-width="1"/>
<text x="628.6" y="167.8" font-size="6.5" fill="#1a1a1a" stroke="#1a1a1a" stroke-width="0" text-anchor="middle">.2</text>
<line x1="675.4" y1="157.5" x2="675.4" y2="160.5" stroke="#666666" stroke-width="1"/>
<text x="675.4" y="167.8" font-size="6.5" fill="#1a1a1a" stroke="#1a1a1a" stroke-width="0" text-anchor="middle">.4</text>
<text x="540.0" y="7.2" font-size="9.0" fill="#2d3e6e" stroke="#2d3e6e" stroke-width="0.15" textLength="84.6" lengthAdjust="spacingAndGlyphs">Growth and Poverty rate</text>
<text x="503.4" y="17.1" font-size="7.4" fill="#1a1a1a" stroke="#1a1a1a" stroke-width="0.15" textLength="155.3" lengthAdjust="spacingAndGlyphs">1970 - 2010: controlling for initial income &amp; region effects</text>
<text x="592.2" y="38.1" font-size="7.0" fill="#1a1a1a" stroke="#1a1a1a" stroke-width="0.15" textLength="74.4" lengthAdjust="spacingAndGlyphs">corr = -0.1986 (p-val=0.0132)</text>
<text x="547.6" y="175.5" font-size="9.7" fill="#1a1a1a" stroke="#1a1a1a" stroke-width="0.15" textLength="59.7" lengthAdjust="spacingAndGlyphs">Initial poverty rate</text>
<text transform="translate(470.2,101.7) rotate(-90)" font-size="9.7" fill="#1a1a1a" stroke="#1a1a1a" stroke-width="0.15" textLength="30.0" lengthAdjust="spacingAndGlyphs">Growth</text></g>
<g fill="#143f6b"><line x1="25.5" y1="342.6" x2="217.2" y2="342.6" stroke="#eff4f6" stroke-width="1"/>
<line x1="25.5" y1="316.9" x2="217.2" y2="316.9" stroke="#eff4f6" stroke-width="1"/>
<line x1="25.5" y1="291.1" x2="217.2" y2="291.1" stroke="#eff4f6" stroke-width="1"/>
<line x1="25.5" y1="265.4" x2="217.2" y2="265.4" stroke="#eff4f6" stroke-width="1"/>
<line x1="25.5" y1="239.6" x2="217.2" y2="239.6" stroke="#eff4f6" stroke-width="1"/>
<line x1="25.5" y1="213.9" x2="217.2" y2="213.9" stroke="#eff4f6" stroke-width="1"/>
<ellipse cx="141.8" cy="228.1" rx="1.52" ry="1.72"/>
<ellipse cx="57.5" cy="277.4" rx="1.52" ry="1.72"/>
<ellipse cx="68.0" cy="281.6" rx="1.52" ry="1.72"/>
<ellipse cx="80.9" cy="283.2" rx="1.52" ry="1.72"/>
<ellipse cx="69.3" cy="289.6" rx="1.52" ry="1.72"/>
<ellipse cx="76.4" cy="288.5" rx="1.52" ry="1.72"/>
<ellipse cx="65.2" cy="292.3" rx="1.52" ry="1.72"/>
<ellipse cx="72.9" cy="292.3" rx="1.52" ry="1.72"/>
<ellipse cx="74.1" cy="292.3" rx="1.52" ry="1.72"/>
<ellipse cx="80.5" cy="290.6" rx="1.52" ry="1.72"/>
<ellipse cx="81.4" cy="294.3" rx="1.52" ry="1.72"/>
<ellipse cx="83.1" cy="298.3" rx="1.52" ry="1.72"/>
<ellipse cx="31.7" cy="299.8" rx="1.52" ry="1.72"/>
<ellipse cx="41.5" cy="301.3" rx="1.52" ry="1.72"/>
<ellipse cx="57.1" cy="299.3" rx="1.52" ry="1.72"/>
<ellipse cx="27.9" cy="304.6" rx="1.52" ry="1.72"/>
<ellipse cx="35.4" cy="306.8" rx="1.52" ry="1.72"/>
<ellipse cx="40.2" cy="309.6" rx="1.52" ry="1.72"/>
<ellipse cx="44.6" cy="307.3" rx="1.52" ry="1.72"/>
<ellipse cx="47.8" cy="312.1" rx="1.52" ry="1.72"/>
<ellipse cx="51.8" cy="305.4" rx="1.52" ry="1.72"/>
<ellipse cx="56.2" cy="304.8" rx="1.52" ry="1.72"/>
<ellipse cx="63.2" cy="308.3" rx="1.52" ry="1.72"/>
<ellipse cx="62.1" cy="311.2" rx="1.52" ry="1.72"/>
<ellipse cx="65.9" cy="311.0" rx="1.52" ry="1.72"/>
<ellipse cx="67.3" cy="308.6" rx="1.52" ry="1.72"/>
<ellipse cx="68.7" cy="308.8" rx="1.52" ry="1.72"/>
<ellipse cx="69.5" cy="310.5" rx="1.52" ry="1.72"/>
<ellipse cx="71.3" cy="310.3" rx="1.52" ry="1.72"/>
<ellipse cx="69.4" cy="312.4" rx="1.52" ry="1.72"/>
<ellipse cx="65.6" cy="315.8" rx="1.52" ry="1.72"/>
<ellipse cx="77.0" cy="303.5" rx="1.52" ry="1.72"/>
<ellipse cx="79.2" cy="304.4" rx="1.52" ry="1.72"/>
<ellipse cx="82.2" cy="303.1" rx="1.52" ry="1.72"/>
<ellipse cx="82.5" cy="307.5" rx="1.52" ry="1.72"/>
<ellipse cx="80.9" cy="310.7" rx="1.52" ry="1.72"/>
<ellipse cx="66.5" cy="322.6" rx="1.52" ry="1.72"/>
<ellipse cx="52.2" cy="330.4" rx="1.52" ry="1.72"/>
<ellipse cx="83.4" cy="327.6" rx="1.52" ry="1.72"/>
<ellipse cx="89.6" cy="260.6" rx="1.52" ry="1.72"/>
<ellipse cx="92.3" cy="288.0" rx="1.52" ry="1.72"/>
<ellipse cx="105.2" cy="283.6" rx="1.52" ry="1.72"/>
<ellipse cx="111.5" cy="281.5" rx="1.52" ry="1.72"/>
<ellipse cx="114.4" cy="287.8" rx="1.52" ry="1.72"/>
<ellipse cx="122.1" cy="287.2" rx="1.52" ry="1.72"/>
<ellipse cx="115.1" cy="290.4" rx="1.52" ry="1.72"/>
<ellipse cx="103.7" cy="290.8" rx="1.52" ry="1.72"/>
<ellipse cx="90.3" cy="294.8" rx="1.52" ry="1.72"/>
<ellipse cx="93.4" cy="296.3" rx="1.52" ry="1.72"/>
<ellipse cx="94.3" cy="299.1" rx="1.52" ry="1.72"/>
<ellipse cx="100.0" cy="295.2" rx="1.52" ry="1.72"/>
<ellipse cx="104.3" cy="295.8" rx="1.52" ry="1.72"/>
<ellipse cx="109.8" cy="296.5" rx="1.52" ry="1.72"/>
<ellipse cx="110.2" cy="298.3" rx="1.52" ry="1.72"/>
<ellipse cx="118.8" cy="299.0" rx="1.52" ry="1.72"/>
<ellipse cx="129.3" cy="295.2" rx="1.52" ry="1.72"/>
<ellipse cx="131.5" cy="295.2" rx="1.52" ry="1.72"/>
<ellipse cx="140.2" cy="292.6" rx="1.52" ry="1.72"/>
<ellipse cx="88.1" cy="301.6" rx="1.52" ry="1.72"/>
<ellipse cx="90.3" cy="301.9" rx="1.52" ry="1.72"/>
<ellipse cx="121.4" cy="302.2" rx="1.52" ry="1.72"/>
<ellipse cx="126.7" cy="300.9" rx="1.52" ry="1.72"/>
<ellipse cx="135.9" cy="300.4" rx="1.52" ry="1.72"/>
<ellipse cx="135.6" cy="301.8" rx="1.52" ry="1.72"/>
<ellipse cx="86.4" cy="305.3" rx="1.52" ry="1.72"/>
<ellipse cx="88.6" cy="306.0" rx="1.52" ry="1.72"/>
<ellipse cx="90.8" cy="307.0" rx="1.52" ry="1.72"/>
<ellipse cx="92.9" cy="307.5" rx="1.52" ry="1.72"/>
<ellipse cx="95.1" cy="306.1" rx="1.52" ry="1.72"/>
<ellipse cx="96.9" cy="305.4" rx="1.52" ry="1.72"/>
<ellipse cx="100.8" cy="304.4" rx="1.52" ry="1.72"/>
<ellipse cx="103.5" cy="304.0" rx="1.52" ry="1.72"/>
<ellipse cx="104.3" cy="305.7" rx="1.52" ry="1.72"/>
<ellipse cx="104.9" cy="307.9" rx="1.52" ry="1.72"/>
<ellipse cx="108.3" cy="306.6" rx="1.52" ry="1.72"/>
<ellipse cx="114.4" cy="304.0" rx="1.52" ry="1.72"/>
<ellipse cx="115.7" cy="303.1" rx="1.52" ry="1.72"/>
<ellipse cx="117.0" cy="304.8" rx="1.52" ry="1.72"/>
<ellipse cx="116.9" cy="306.8" rx="1.52" ry="1.72"/>
<ellipse cx="124.9" cy="304.0" rx="1.52" ry="1.72"/>
<ellipse cx="132.4" cy="307.0" rx="1.52" ry="1.72"/>
<ellipse cx="131.5" cy="308.9" rx="1.52" ry="1.72"/>
<ellipse cx="139.8" cy="304.8" rx="1.52" ry="1.72"/>
<ellipse cx="99.5" cy="309.5" rx="1.52" ry="1.72"/>
<ellipse cx="115.7" cy="309.6" rx="1.52" ry="1.72"/>
<ellipse cx="107.4" cy="311.2" rx="1.52" ry="1.72"/>
<ellipse cx="111.8" cy="311.8" rx="1.52" ry="1.72"/>
<ellipse cx="85.9" cy="312.3" rx="1.52" ry="1.72"/>
<ellipse cx="90.8" cy="311.8" rx="1.52" ry="1.72"/>
<ellipse cx="87.7" cy="316.2" rx="1.52" ry="1.72"/>
<ellipse cx="92.3" cy="315.1" rx="1.52" ry="1.72"/>
<ellipse cx="99.1" cy="314.2" rx="1.52" ry="1.72"/>
<ellipse cx="102.1" cy="313.3" rx="1.52" ry="1.72"/>
<ellipse cx="106.1" cy="314.2" rx="1.52" ry="1.72"/>
<ellipse cx="117.9" cy="313.8" rx="1.52" ry="1.72"/>
<ellipse cx="120.5" cy="312.3" rx="1.52" ry="1.72"/>
<ellipse cx="122.7" cy="311.0" rx="1.52" ry="1.72"/>
<ellipse cx="125.3" cy="309.6" rx="1.52" ry="1.72"/>
<ellipse cx="123.2" cy="314.0" rx="1.52" ry="1.72"/>
<ellipse cx="125.8" cy="313.1" rx="1.52" ry="1.72"/>
<ellipse cx="127.5" cy="314.5" rx="1.52" ry="1.72"/>
<ellipse cx="129.7" cy="314.0" rx="1.52" ry="1.72"/>
<ellipse cx="131.9" cy="313.8" rx="1.52" ry="1.72"/>
<ellipse cx="135.9" cy="312.4" rx="1.52" ry="1.72"/>
<ellipse cx="125.3" cy="315.8" rx="1.52" ry="1.72"/>
<ellipse cx="126.2" cy="316.8" rx="1.52" ry="1.72"/>
<ellipse cx="141.5" cy="316.8" rx="1.52" ry="1.72"/>
<ellipse cx="105.2" cy="323.2" rx="1.52" ry="1.72"/>
<ellipse cx="111.1" cy="321.6" rx="1.52" ry="1.72"/>
<ellipse cx="114.0" cy="331.3" rx="1.52" ry="1.72"/>
<ellipse cx="130.3" cy="322.8" rx="1.52" ry="1.72"/>
<ellipse cx="127.5" cy="327.8" rx="1.52" ry="1.72"/>
<ellipse cx="137.8" cy="323.9" rx="1.52" ry="1.72"/>
<ellipse cx="170.8" cy="277.0" rx="1.52" ry="1.72"/>
<ellipse cx="143.1" cy="291.1" rx="1.52" ry="1.72"/>
<ellipse cx="160.6" cy="295.5" rx="1.52" ry="1.72"/>
<ellipse cx="149.6" cy="300.0" rx="1.52" ry="1.72"/>
<ellipse cx="154.7" cy="302.2" rx="1.52" ry="1.72"/>
<ellipse cx="157.5" cy="305.4" rx="1.52" ry="1.72"/>
<ellipse cx="142.5" cy="307.0" rx="1.52" ry="1.72"/>
<ellipse cx="148.3" cy="308.1" rx="1.52" ry="1.72"/>
<ellipse cx="149.2" cy="309.6" rx="1.52" ry="1.72"/>
<ellipse cx="151.8" cy="310.3" rx="1.52" ry="1.72"/>
<ellipse cx="144.2" cy="312.1" rx="1.52" ry="1.72"/>
<ellipse cx="158.0" cy="311.8" rx="1.52" ry="1.72"/>
<ellipse cx="155.8" cy="313.6" rx="1.52" ry="1.72"/>
<ellipse cx="153.8" cy="314.2" rx="1.52" ry="1.72"/>
<ellipse cx="142.2" cy="316.6" rx="1.52" ry="1.72"/>
<ellipse cx="146.3" cy="316.6" rx="1.52" ry="1.72"/>
<ellipse cx="167.0" cy="309.8" rx="1.52" ry="1.72"/>
<ellipse cx="168.9" cy="307.0" rx="1.52" ry="1.72"/>
<ellipse cx="168.9" cy="312.3" rx="1.52" ry="1.72"/>
<ellipse cx="172.2" cy="307.0" rx="1.52" ry="1.72"/>
<ellipse cx="173.7" cy="310.3" rx="1.52" ry="1.72"/>
<ellipse cx="174.0" cy="311.8" rx="1.52" ry="1.72"/>
<ellipse cx="177.8" cy="303.7" rx="1.52" ry="1.72"/>
<ellipse cx="184.7" cy="303.7" rx="1.52" ry="1.72"/>
<ellipse cx="146.3" cy="318.8" rx="1.52" ry="1.72"/>
<ellipse cx="182.2" cy="318.2" rx="1.52" ry="1.72"/>
<ellipse cx="179.8" cy="321.2" rx="1.52" ry="1.72"/>
<ellipse cx="190.4" cy="326.7" rx="1.52" ry="1.72"/>
<ellipse cx="214.4" cy="307.8" rx="1.52" ry="1.72"/>
<line x1="27.9" y1="301.9" x2="214.3" y2="309.2" stroke="#b04a55" stroke-width="0.85"/>
<line x1="24.5" y1="210.9" x2="24.5" y2="347.3" stroke="#b2b2b2" stroke-width="1"/>
<line x1="24.0" y1="346.8" x2="217.2" y2="346.8" stroke="#b2b2b2" stroke-width="1"/>
<line x1="21.5" y1="342.6" x2="24.5" y2="342.6" stroke="#666666" stroke-width="1"/>
<text transform="translate(20.2,342.6) rotate(-90)" font-size="6.5" fill="#1a1a1a" stroke="#1a1a1a" stroke-width="0" text-anchor="middle">-.05</text>
<line x1="21.5" y1="316.9" x2="24.5" y2="316.9" stroke="#666666" stroke-width="1"/>
<text transform="translate(20.2,316.9) rotate(-90)" font-size="6.5" fill="#1a1a1a" stroke="#1a1a1a" stroke-width="0" text-anchor="middle">0</text>
<line x1="21.5" y1="291.1" x2="24.5" y2="291.1" stroke="#666666" stroke-width="1"/>
<text transform="translate(20.2,291.1) rotate(-90)" font-size="6.5" fill="#1a1a1a" stroke="#1a1a1a" stroke-width="0" text-anchor="middle">.05</text>
<line x1="21.5" y1="265.4" x2="24.5" y2="265.4" stroke="#666666" stroke-width="1"/>
<text transform="translate(20.2,265.4) rotate(-90)" font-size="6.5" fill="#1a1a1a" stroke="#1a1a1a" stroke-width="0" text-anchor="middle">.1</text>
<line x1="21.5" y1="239.6" x2="24.5" y2="239.6" stroke="#666666" stroke-width="1"/>
<text transform="translate(20.2,239.6) rotate(-90)" font-size="6.5" fill="#1a1a1a" stroke="#1a1a1a" stroke-width="0" text-anchor="middle">.15</text>
<line x1="21.5" y1="213.9" x2="24.5" y2="213.9" stroke="#666666" stroke-width="1"/>
<text transform="translate(20.2,213.9) rotate(-90)" font-size="6.5" fill="#1a1a1a" stroke="#1a1a1a" stroke-width="0" text-anchor="middle">.2</text>
<line x1="34.7" y1="346.8" x2="34.7" y2="349.8" stroke="#666666" stroke-width="1"/>
<text x="34.7" y="357.6" font-size="6.5" fill="#1a1a1a" stroke="#1a1a1a" stroke-width="0" text-anchor="middle">.2</text>
<line x1="69.1" y1="346.8" x2="69.1" y2="349.8" stroke="#666666" stroke-width="1"/>
<text x="69.1" y="357.6" font-size="6.5" fill="#1a1a1a" stroke="#1a1a1a" stroke-width="0" text-anchor="middle">.3</text>
<line x1="103.6" y1="346.8" x2="103.6" y2="349.8" stroke="#666666" stroke-width="1"/>
<text x="103.6" y="357.6" font-size="6.5" fill="#1a1a1a" stroke="#1a1a1a" stroke-width="0" text-anchor="middle">.4</text>
<line x1="138.0" y1="346.8" x2="138.0" y2="349.8" stroke="#666666" stroke-width="1"/>
<text x="138.0" y="357.6" font-size="6.5" fill="#1a1a1a" stroke="#1a1a1a" stroke-width="0" text-anchor="middle">.5</text>
<line x1="172.5" y1="346.8" x2="172.5" y2="349.8" stroke="#666666" stroke-width="1"/>
<text x="172.5" y="357.6" font-size="6.5" fill="#1a1a1a" stroke="#1a1a1a" stroke-width="0" text-anchor="middle">.6</text>
<line x1="206.9" y1="346.8" x2="206.9" y2="349.8" stroke="#666666" stroke-width="1"/>
<text x="206.9" y="357.6" font-size="6.5" fill="#1a1a1a" stroke="#1a1a1a" stroke-width="0" text-anchor="middle">.7</text>
<text x="84.4" y="198.1" font-size="9.0" fill="#2d3e6e" stroke="#2d3e6e" stroke-width="0.15" textLength="74.8" lengthAdjust="spacingAndGlyphs">Growth and Inequality</text>
<text x="105.0" y="207.8" font-size="7.4" fill="#1a1a1a" stroke="#1a1a1a" stroke-width="0.15" textLength="32.5" lengthAdjust="spacingAndGlyphs">1970 - 2010</text>
<text x="101.0" y="229.8" font-size="7.0" fill="#1a1a1a" stroke="#1a1a1a" stroke-width="0.15" textLength="75.0" lengthAdjust="spacingAndGlyphs">corr = 0.1199 (p-val = 0.1361)</text>
<text x="94.8" y="366.5" font-size="9.7" fill="#1a1a1a" stroke="#1a1a1a" stroke-width="0.15" textLength="70.9" lengthAdjust="spacingAndGlyphs">Initial Gini coefficient</text>
<text transform="translate(10.4,294.0) rotate(-90)" font-size="9.7" fill="#1a1a1a" stroke="#1a1a1a" stroke-width="0.15" textLength="30.0" lengthAdjust="spacingAndGlyphs">Growth</text></g>
<g fill="#143f6b"><line x1="256.5" y1="342.7" x2="450.0" y2="342.7" stroke="#eff4f6" stroke-width="1"/>
<line x1="256.5" y1="299.9" x2="450.0" y2="299.9" stroke="#eff4f6" stroke-width="1"/>
<line x1="256.5" y1="257.1" x2="450.0" y2="257.1" stroke="#eff4f6" stroke-width="1"/>
<line x1="256.5" y1="214.3" x2="450.0" y2="214.3" stroke="#eff4f6" stroke-width="1"/>
<ellipse cx="289.5" cy="253.0" rx="1.52" ry="1.72"/>
<ellipse cx="312.8" cy="225.6" rx="1.52" ry="1.72"/>
<ellipse cx="272.4" cy="262.5" rx="1.52" ry="1.72"/>
<ellipse cx="314.0" cy="262.6" rx="1.52" ry="1.72"/>
<ellipse cx="286.0" cy="274.1" rx="1.52" ry="1.72"/>
<ellipse cx="290.6" cy="278.7" rx="1.52" ry="1.72"/>
<ellipse cx="298.5" cy="272.4" rx="1.52" ry="1.72"/>
<ellipse cx="297.6" cy="274.1" rx="1.52" ry="1.72"/>
<ellipse cx="301.1" cy="277.5" rx="1.52" ry="1.72"/>
<ellipse cx="308.1" cy="277.2" rx="1.52" ry="1.72"/>
<ellipse cx="311.0" cy="272.0" rx="1.52" ry="1.72"/>
<ellipse cx="305.7" cy="285.9" rx="1.52" ry="1.72"/>
<ellipse cx="315.5" cy="280.7" rx="1.52" ry="1.72"/>
<ellipse cx="259.1" cy="290.8" rx="1.52" ry="1.72"/>
<ellipse cx="270.7" cy="297.6" rx="1.52" ry="1.72"/>
<ellipse cx="281.4" cy="292.3" rx="1.52" ry="1.72"/>
<ellipse cx="281.0" cy="301.1" rx="1.52" ry="1.72"/>
<ellipse cx="281.2" cy="302.6" rx="1.52" ry="1.72"/>
<ellipse cx="281.0" cy="305.8" rx="1.52" ry="1.72"/>
<ellipse cx="281.4" cy="307.0" rx="1.52" ry="1.72"/>
<ellipse cx="284.2" cy="309.6" rx="1.52" ry="1.72"/>
<ellipse cx="290.0" cy="299.3" rx="1.52" ry="1.72"/>
<ellipse cx="294.5" cy="301.4" rx="1.52" ry="1.72"/>
<ellipse cx="290.9" cy="305.5" rx="1.52" ry="1.72"/>
<ellipse cx="289.1" cy="310.0" rx="1.52" ry="1.72"/>
<ellipse cx="291.5" cy="310.0" rx="1.52" ry="1.72"/>
<ellipse cx="300.2" cy="300.4" rx="1.52" ry="1.72"/>
<ellipse cx="302.2" cy="297.8" rx="1.52" ry="1.72"/>
<ellipse cx="308.1" cy="288.6" rx="1.52" ry="1.72"/>
<ellipse cx="310.5" cy="287.7" rx="1.52" ry="1.72"/>
<ellipse cx="312.7" cy="294.4" rx="1.52" ry="1.72"/>
<ellipse cx="307.2" cy="302.4" rx="1.52" ry="1.72"/>
<ellipse cx="310.7" cy="303.0" rx="1.52" ry="1.72"/>
<ellipse cx="312.7" cy="303.2" rx="1.52" ry="1.72"/>
<ellipse cx="309.6" cy="307.4" rx="1.52" ry="1.72"/>
<ellipse cx="311.9" cy="307.4" rx="1.52" ry="1.72"/>
<ellipse cx="315.5" cy="300.2" rx="1.52" ry="1.72"/>
<ellipse cx="298.0" cy="316.8" rx="1.52" ry="1.72"/>
<ellipse cx="301.1" cy="318.8" rx="1.52" ry="1.72"/>
<ellipse cx="281.6" cy="329.3" rx="1.52" ry="1.72"/>
<ellipse cx="295.1" cy="338.2" rx="1.52" ry="1.72"/>
<ellipse cx="308.1" cy="338.7" rx="1.52" ry="1.72"/>
<ellipse cx="335.5" cy="260.8" rx="1.52" ry="1.72"/>
<ellipse cx="329.3" cy="264.3" rx="1.52" ry="1.72"/>
<ellipse cx="327.3" cy="271.3" rx="1.52" ry="1.72"/>
<ellipse cx="329.5" cy="272.6" rx="1.52" ry="1.72"/>
<ellipse cx="338.1" cy="271.1" rx="1.52" ry="1.72"/>
<ellipse cx="341.8" cy="274.6" rx="1.52" ry="1.72"/>
<ellipse cx="344.6" cy="274.6" rx="1.52" ry="1.72"/>
<ellipse cx="318.3" cy="274.6" rx="1.52" ry="1.72"/>
<ellipse cx="316.8" cy="280.7" rx="1.52" ry="1.72"/>
<ellipse cx="318.8" cy="281.1" rx="1.52" ry="1.72"/>
<ellipse cx="320.8" cy="282.2" rx="1.52" ry="1.72"/>
<ellipse cx="317.7" cy="283.8" rx="1.52" ry="1.72"/>
<ellipse cx="335.5" cy="283.6" rx="1.52" ry="1.72"/>
<ellipse cx="346.4" cy="284.0" rx="1.52" ry="1.72"/>
<ellipse cx="369.8" cy="276.3" rx="1.52" ry="1.72"/>
<ellipse cx="367.9" cy="282.5" rx="1.52" ry="1.72"/>
<ellipse cx="322.9" cy="286.6" rx="1.52" ry="1.72"/>
<ellipse cx="338.3" cy="288.0" rx="1.52" ry="1.72"/>
<ellipse cx="329.5" cy="289.0" rx="1.52" ry="1.72"/>
<ellipse cx="330.4" cy="290.8" rx="1.52" ry="1.72"/>
<ellipse cx="332.0" cy="292.5" rx="1.52" ry="1.72"/>
<ellipse cx="340.5" cy="293.4" rx="1.52" ry="1.72"/>
<ellipse cx="319.7" cy="295.6" rx="1.52" ry="1.72"/>
<ellipse cx="322.5" cy="296.2" rx="1.52" ry="1.72"/>
<ellipse cx="328.6" cy="295.1" rx="1.52" ry="1.72"/>
<ellipse cx="352.7" cy="294.3" rx="1.52" ry="1.72"/>
<ellipse cx="356.2" cy="293.8" rx="1.52" ry="1.72"/>
<ellipse cx="355.3" cy="295.6" rx="1.52" ry="1.72"/>
<ellipse cx="358.8" cy="297.1" rx="1.52" ry="1.72"/>
<ellipse cx="364.4" cy="292.3" rx="1.52" ry="1.72"/>
<ellipse cx="369.1" cy="291.8" rx="1.52" ry="1.72"/>
<ellipse cx="363.7" cy="297.1" rx="1.52" ry="1.72"/>
<ellipse cx="322.1" cy="297.9" rx="1.52" ry="1.72"/>
<ellipse cx="325.8" cy="299.5" rx="1.52" ry="1.72"/>
<ellipse cx="330.4" cy="298.6" rx="1.52" ry="1.72"/>
<ellipse cx="332.6" cy="298.8" rx="1.52" ry="1.72"/>
<ellipse cx="328.6" cy="300.8" rx="1.52" ry="1.72"/>
<ellipse cx="337.0" cy="298.6" rx="1.52" ry="1.72"/>
<ellipse cx="342.2" cy="297.9" rx="1.52" ry="1.72"/>
<ellipse cx="347.9" cy="299.7" rx="1.52" ry="1.72"/>
<ellipse cx="350.5" cy="301.3" rx="1.52" ry="1.72"/>
<ellipse cx="353.3" cy="297.9" rx="1.52" ry="1.72"/>
<ellipse cx="353.9" cy="300.6" rx="1.52" ry="1.72"/>
<ellipse cx="317.3" cy="303.0" rx="1.52" ry="1.72"/>
<ellipse cx="336.1" cy="301.1" rx="1.52" ry="1.72"/>
<ellipse cx="337.4" cy="302.0" rx="1.52" ry="1.72"/>
<ellipse cx="338.7" cy="301.7" rx="1.52" ry="1.72"/>
<ellipse cx="336.5" cy="302.8" rx="1.52" ry="1.72"/>
<ellipse cx="330.4" cy="304.3" rx="1.52" ry="1.72"/>
<ellipse cx="342.5" cy="304.3" rx="1.52" ry="1.72"/>
<ellipse cx="346.6" cy="303.7" rx="1.52" ry="1.72"/>
<ellipse cx="345.3" cy="305.5" rx="1.52" ry="1.72"/>
<ellipse cx="354.5" cy="303.9" rx="1.52" ry="1.72"/>
<ellipse cx="352.7" cy="306.3" rx="1.52" ry="1.72"/>
<ellipse cx="323.6" cy="306.5" rx="1.52" ry="1.72"/>
<ellipse cx="322.9" cy="310.9" rx="1.52" ry="1.72"/>
<ellipse cx="318.0" cy="309.8" rx="1.52" ry="1.72"/>
<ellipse cx="350.5" cy="309.1" rx="1.52" ry="1.72"/>
<ellipse cx="341.8" cy="309.1" rx="1.52" ry="1.72"/>
<ellipse cx="344.0" cy="309.1" rx="1.52" ry="1.72"/>
<ellipse cx="342.6" cy="310.9" rx="1.52" ry="1.72"/>
<ellipse cx="362.6" cy="306.1" rx="1.52" ry="1.72"/>
<ellipse cx="371.1" cy="310.9" rx="1.52" ry="1.72"/>
<ellipse cx="364.4" cy="312.0" rx="1.52" ry="1.72"/>
<ellipse cx="320.3" cy="314.2" rx="1.52" ry="1.72"/>
<ellipse cx="323.2" cy="316.0" rx="1.52" ry="1.72"/>
<ellipse cx="325.8" cy="315.4" rx="1.52" ry="1.72"/>
<ellipse cx="330.0" cy="314.4" rx="1.52" ry="1.72"/>
<ellipse cx="333.5" cy="316.0" rx="1.52" ry="1.72"/>
<ellipse cx="342.2" cy="312.5" rx="1.52" ry="1.72"/>
<ellipse cx="343.7" cy="314.2" rx="1.52" ry="1.72"/>
<ellipse cx="344.4" cy="317.0" rx="1.52" ry="1.72"/>
<ellipse cx="352.7" cy="314.2" rx="1.52" ry="1.72"/>
<ellipse cx="357.7" cy="313.9" rx="1.52" ry="1.72"/>
<ellipse cx="366.3" cy="313.9" rx="1.52" ry="1.72"/>
<ellipse cx="363.0" cy="316.3" rx="1.52" ry="1.72"/>
<ellipse cx="366.7" cy="318.1" rx="1.52" ry="1.72"/>
<ellipse cx="367.9" cy="319.6" rx="1.52" ry="1.72"/>
<ellipse cx="368.5" cy="322.3" rx="1.52" ry="1.72"/>
<ellipse cx="362.6" cy="320.3" rx="1.52" ry="1.72"/>
<ellipse cx="333.0" cy="327.1" rx="1.52" ry="1.72"/>
<ellipse cx="324.9" cy="330.4" rx="1.52" ry="1.72"/>
<ellipse cx="347.5" cy="329.4" rx="1.52" ry="1.72"/>
<ellipse cx="364.8" cy="330.8" rx="1.52" ry="1.72"/>
<ellipse cx="346.2" cy="338.0" rx="1.52" ry="1.72"/>
<ellipse cx="333.1" cy="343.8" rx="1.52" ry="1.72"/>
<ellipse cx="378.5" cy="278.1" rx="1.52" ry="1.72"/>
<ellipse cx="382.7" cy="284.0" rx="1.52" ry="1.72"/>
<ellipse cx="398.0" cy="252.7" rx="1.52" ry="1.72"/>
<ellipse cx="385.5" cy="294.4" rx="1.52" ry="1.72"/>
<ellipse cx="382.7" cy="299.1" rx="1.52" ry="1.72"/>
<ellipse cx="383.3" cy="303.5" rx="1.52" ry="1.72"/>
<ellipse cx="391.2" cy="300.2" rx="1.52" ry="1.72"/>
<ellipse cx="395.1" cy="298.2" rx="1.52" ry="1.72"/>
<ellipse cx="401.3" cy="302.6" rx="1.52" ry="1.72"/>
<ellipse cx="402.9" cy="302.8" rx="1.52" ry="1.72"/>
<ellipse cx="402.0" cy="306.5" rx="1.52" ry="1.72"/>
<ellipse cx="401.3" cy="310.5" rx="1.52" ry="1.72"/>
<ellipse cx="414.8" cy="297.3" rx="1.52" ry="1.72"/>
<ellipse cx="413.4" cy="307.2" rx="1.52" ry="1.72"/>
<ellipse cx="373.4" cy="307.0" rx="1.52" ry="1.72"/>
<ellipse cx="384.2" cy="308.1" rx="1.52" ry="1.72"/>
<ellipse cx="377.2" cy="311.8" rx="1.52" ry="1.72"/>
<ellipse cx="381.6" cy="312.5" rx="1.52" ry="1.72"/>
<ellipse cx="393.0" cy="310.2" rx="1.52" ry="1.72"/>
<ellipse cx="389.0" cy="312.8" rx="1.52" ry="1.72"/>
<ellipse cx="391.2" cy="313.1" rx="1.52" ry="1.72"/>
<ellipse cx="377.2" cy="313.9" rx="1.52" ry="1.72"/>
<ellipse cx="374.3" cy="315.7" rx="1.52" ry="1.72"/>
<ellipse cx="389.3" cy="323.4" rx="1.52" ry="1.72"/>
<ellipse cx="394.1" cy="327.1" rx="1.52" ry="1.72"/>
<ellipse cx="407.8" cy="336.3" rx="1.52" ry="1.72"/>
<ellipse cx="446.7" cy="303.5" rx="1.52" ry="1.72"/>
<line x1="259.1" y1="290.8" x2="446.5" y2="312.0" stroke="#b04a55" stroke-width="0.85"/>
<line x1="255.5" y1="210.9" x2="255.5" y2="348.0" stroke="#b2b2b2" stroke-width="1"/>
<line x1="255.0" y1="347.5" x2="450.0" y2="347.5" stroke="#b2b2b2" stroke-width="1"/>
<line x1="252.5" y1="342.7" x2="255.5" y2="342.7" stroke="#666666" stroke-width="1"/>
<text transform="translate(251.1,342.7) rotate(-90)" font-size="6.5" fill="#1a1a1a" stroke="#1a1a1a" stroke-width="0" text-anchor="middle">-.05</text>
<line x1="252.5" y1="299.9" x2="255.5" y2="299.9" stroke="#666666" stroke-width="1"/>
<text transform="translate(251.1,299.9) rotate(-90)" font-size="6.5" fill="#1a1a1a" stroke="#1a1a1a" stroke-width="0" text-anchor="middle">0</text>
<line x1="252.5" y1="257.1" x2="255.5" y2="257.1" stroke="#666666" stroke-width="1"/>
<text transform="translate(251.1,257.1) rotate(-90)" font-size="6.5" fill="#1a1a1a" stroke="#1a1a1a" stroke-width="0" text-anchor="middle">.05</text>
<line x1="252.5" y1="214.3" x2="255.5" y2="214.3" stroke="#666666" stroke-width="1"/>
<text transform="translate(251.1,214.3) rotate(-90)" font-size="6.5" fill="#1a1a1a" stroke="#1a1a1a" stroke-width="0" text-anchor="middle">.1</text>
<line x1="269.1" y1="347.5" x2="269.1" y2="350.5" stroke="#666666" stroke-width="1"/>
<text x="269.1" y="357.8" font-size="6.5" fill="#1a1a1a" stroke="#1a1a1a" stroke-width="0" text-anchor="middle">-.2</text>
<line x1="303.9" y1="347.5" x2="303.9" y2="350.5" stroke="#666666" stroke-width="1"/>
<text x="303.9" y="357.8" font-size="6.5" fill="#1a1a1a" stroke="#1a1a1a" stroke-width="0" text-anchor="middle">-.1</text>
<line x1="338.8" y1="347.5" x2="338.8" y2="350.5" stroke="#666666" stroke-width="1"/>
<text x="338.8" y="357.8" font-size="6.5" fill="#1a1a1a" stroke="#1a1a1a" stroke-width="0" text-anchor="middle">0</text>
<line x1="373.6" y1="347.5" x2="373.6" y2="350.5" stroke="#666666" stroke-width="1"/>
<text x="373.6" y="357.8" font-size="6.5" fill="#1a1a1a" stroke="#1a1a1a" stroke-width="0" text-anchor="middle">.1</text>
<line x1="408.4" y1="347.5" x2="408.4" y2="350.5" stroke="#666666" stroke-width="1"/>
<text x="408.4" y="357.8" font-size="6.5" fill="#1a1a1a" stroke="#1a1a1a" stroke-width="0" text-anchor="middle">.2</text>
<line x1="443.2" y1="347.5" x2="443.2" y2="350.5" stroke="#666666" stroke-width="1"/>
<text x="443.2" y="357.8" font-size="6.5" fill="#1a1a1a" stroke="#1a1a1a" stroke-width="0" text-anchor="middle">.3</text>
<text x="315.5" y="198.3" font-size="9.0" fill="#2d3e6e" stroke="#2d3e6e" stroke-width="0.15" textLength="75.8" lengthAdjust="spacingAndGlyphs">Growth and Inequality</text>
<text x="296.9" y="208.3" font-size="7.4" fill="#1a1a1a" stroke="#1a1a1a" stroke-width="0.15" textLength="110.9" lengthAdjust="spacingAndGlyphs">1970 - 2010: controlling for initial income</text>
<text x="364.2" y="231.1" font-size="7.0" fill="#1a1a1a" stroke="#1a1a1a" stroke-width="0.15" textLength="75.2" lengthAdjust="spacingAndGlyphs">corr = -0.2111 (p-val=0.0084)</text>
<text x="318.6" y="367.0" font-size="9.7" fill="#1a1a1a" stroke="#1a1a1a" stroke-width="0.15" textLength="70.5" lengthAdjust="spacingAndGlyphs">Initial Gini coefficient</text>
<text transform="translate(240.8,293.5) rotate(-90)" font-size="9.7" fill="#1a1a1a" stroke="#1a1a1a" stroke-width="0.15" textLength="30.5" lengthAdjust="spacingAndGlyphs">Growth</text></g>
<g fill="#143f6b"><line x1="488.5" y1="342.2" x2="681.5" y2="342.2" stroke="#eff4f6" stroke-width="1"/>
<line x1="488.5" y1="299.6" x2="681.5" y2="299.6" stroke="#eff4f6" stroke-width="1"/>
<line x1="488.5" y1="257.0" x2="681.5" y2="257.0" stroke="#eff4f6" stroke-width="1"/>
<line x1="488.5" y1="214.4" x2="681.5" y2="214.4" stroke="#eff4f6" stroke-width="1"/>
<ellipse cx="542.7" cy="263.2" rx="1.52" ry="1.72"/>
<ellipse cx="545.4" cy="272.6" rx="1.52" ry="1.72"/>
<ellipse cx="523.5" cy="282.9" rx="1.52" ry="1.72"/>
<ellipse cx="535.3" cy="284.6" rx="1.52" ry="1.72"/>
<ellipse cx="545.8" cy="287.7" rx="1.52" ry="1.72"/>
<ellipse cx="544.9" cy="290.3" rx="1.52" ry="1.72"/>
<ellipse cx="497.2" cy="298.2" rx="1.52" ry="1.72"/>
<ellipse cx="525.5" cy="294.3" rx="1.52" ry="1.72"/>
<ellipse cx="526.4" cy="298.2" rx="1.52" ry="1.72"/>
<ellipse cx="531.8" cy="293.2" rx="1.52" ry="1.72"/>
<ellipse cx="535.1" cy="292.1" rx="1.52" ry="1.72"/>
<ellipse cx="535.7" cy="295.1" rx="1.52" ry="1.72"/>
<ellipse cx="533.1" cy="297.1" rx="1.52" ry="1.72"/>
<ellipse cx="547.1" cy="296.0" rx="1.52" ry="1.72"/>
<ellipse cx="544.0" cy="299.1" rx="1.52" ry="1.72"/>
<ellipse cx="543.6" cy="301.4" rx="1.52" ry="1.72"/>
<ellipse cx="509.0" cy="300.4" rx="1.52" ry="1.72"/>
<ellipse cx="509.7" cy="303.5" rx="1.52" ry="1.72"/>
<ellipse cx="512.5" cy="302.6" rx="1.52" ry="1.72"/>
<ellipse cx="513.8" cy="303.2" rx="1.52" ry="1.72"/>
<ellipse cx="520.8" cy="304.3" rx="1.52" ry="1.72"/>
<ellipse cx="523.7" cy="305.5" rx="1.52" ry="1.72"/>
<ellipse cx="524.1" cy="307.4" rx="1.52" ry="1.72"/>
<ellipse cx="531.3" cy="302.6" rx="1.52" ry="1.72"/>
<ellipse cx="534.8" cy="303.2" rx="1.52" ry="1.72"/>
<ellipse cx="539.2" cy="303.7" rx="1.52" ry="1.72"/>
<ellipse cx="537.5" cy="306.3" rx="1.52" ry="1.72"/>
<ellipse cx="541.6" cy="305.8" rx="1.52" ry="1.72"/>
<ellipse cx="518.0" cy="310.2" rx="1.52" ry="1.72"/>
<ellipse cx="525.2" cy="311.3" rx="1.52" ry="1.72"/>
<ellipse cx="527.4" cy="310.5" rx="1.52" ry="1.72"/>
<ellipse cx="529.9" cy="310.2" rx="1.52" ry="1.72"/>
<ellipse cx="507.3" cy="314.8" rx="1.52" ry="1.72"/>
<ellipse cx="495.4" cy="319.6" rx="1.52" ry="1.72"/>
<ellipse cx="534.0" cy="314.2" rx="1.52" ry="1.72"/>
<ellipse cx="544.9" cy="314.2" rx="1.52" ry="1.72"/>
<ellipse cx="513.6" cy="330.6" rx="1.52" ry="1.72"/>
<ellipse cx="541.0" cy="337.3" rx="1.52" ry="1.72"/>
<ellipse cx="547.4" cy="332.6" rx="1.52" ry="1.72"/>
<ellipse cx="576.1" cy="240.2" rx="1.52" ry="1.72"/>
<ellipse cx="580.8" cy="261.9" rx="1.52" ry="1.72"/>
<ellipse cx="554.3" cy="267.1" rx="1.52" ry="1.72"/>
<ellipse cx="555.6" cy="273.1" rx="1.52" ry="1.72"/>
<ellipse cx="558.9" cy="273.3" rx="1.52" ry="1.72"/>
<ellipse cx="568.3" cy="272.4" rx="1.52" ry="1.72"/>
<ellipse cx="573.8" cy="271.5" rx="1.52" ry="1.72"/>
<ellipse cx="552.9" cy="278.1" rx="1.52" ry="1.72"/>
<ellipse cx="568.5" cy="279.4" rx="1.52" ry="1.72"/>
<ellipse cx="569.0" cy="281.8" rx="1.52" ry="1.72"/>
<ellipse cx="577.3" cy="282.7" rx="1.52" ry="1.72"/>
<ellipse cx="586.7" cy="280.7" rx="1.52" ry="1.72"/>
<ellipse cx="593.2" cy="278.3" rx="1.52" ry="1.72"/>
<ellipse cx="600.0" cy="274.8" rx="1.52" ry="1.72"/>
<ellipse cx="551.7" cy="283.3" rx="1.52" ry="1.72"/>
<ellipse cx="552.3" cy="285.5" rx="1.52" ry="1.72"/>
<ellipse cx="554.9" cy="285.9" rx="1.52" ry="1.72"/>
<ellipse cx="560.2" cy="285.7" rx="1.52" ry="1.72"/>
<ellipse cx="561.5" cy="285.7" rx="1.52" ry="1.72"/>
<ellipse cx="547.3" cy="288.1" rx="1.52" ry="1.72"/>
<ellipse cx="550.6" cy="290.6" rx="1.52" ry="1.72"/>
<ellipse cx="552.3" cy="291.2" rx="1.52" ry="1.72"/>
<ellipse cx="550.1" cy="292.9" rx="1.52" ry="1.72"/>
<ellipse cx="552.8" cy="294.1" rx="1.52" ry="1.72"/>
<ellipse cx="555.8" cy="290.8" rx="1.52" ry="1.72"/>
<ellipse cx="556.7" cy="292.5" rx="1.52" ry="1.72"/>
<ellipse cx="557.6" cy="295.3" rx="1.52" ry="1.72"/>
<ellipse cx="567.2" cy="289.4" rx="1.52" ry="1.72"/>
<ellipse cx="569.6" cy="289.4" rx="1.52" ry="1.72"/>
<ellipse cx="576.0" cy="288.3" rx="1.52" ry="1.72"/>
<ellipse cx="587.8" cy="290.9" rx="1.52" ry="1.72"/>
<ellipse cx="598.3" cy="288.6" rx="1.52" ry="1.72"/>
<ellipse cx="593.7" cy="293.8" rx="1.52" ry="1.72"/>
<ellipse cx="595.5" cy="295.8" rx="1.52" ry="1.72"/>
<ellipse cx="547.1" cy="300.4" rx="1.52" ry="1.72"/>
<ellipse cx="555.0" cy="300.0" rx="1.52" ry="1.72"/>
<ellipse cx="557.1" cy="298.8" rx="1.52" ry="1.72"/>
<ellipse cx="559.1" cy="300.0" rx="1.52" ry="1.72"/>
<ellipse cx="560.6" cy="298.2" rx="1.52" ry="1.72"/>
<ellipse cx="566.3" cy="297.3" rx="1.52" ry="1.72"/>
<ellipse cx="566.8" cy="299.5" rx="1.52" ry="1.72"/>
<ellipse cx="569.0" cy="299.1" rx="1.52" ry="1.72"/>
<ellipse cx="565.7" cy="301.1" rx="1.52" ry="1.72"/>
<ellipse cx="568.1" cy="302.6" rx="1.52" ry="1.72"/>
<ellipse cx="572.9" cy="298.5" rx="1.52" ry="1.72"/>
<ellipse cx="573.8" cy="300.0" rx="1.52" ry="1.72"/>
<ellipse cx="578.2" cy="297.1" rx="1.52" ry="1.72"/>
<ellipse cx="581.7" cy="298.2" rx="1.52" ry="1.72"/>
<ellipse cx="592.2" cy="298.6" rx="1.52" ry="1.72"/>
<ellipse cx="603.4" cy="297.9" rx="1.52" ry="1.72"/>
<ellipse cx="552.3" cy="303.0" rx="1.52" ry="1.72"/>
<ellipse cx="551.9" cy="304.9" rx="1.52" ry="1.72"/>
<ellipse cx="572.2" cy="303.0" rx="1.52" ry="1.72"/>
<ellipse cx="577.5" cy="303.7" rx="1.52" ry="1.72"/>
<ellipse cx="572.7" cy="307.0" rx="1.52" ry="1.72"/>
<ellipse cx="560.2" cy="306.5" rx="1.52" ry="1.72"/>
<ellipse cx="562.0" cy="307.2" rx="1.52" ry="1.72"/>
<ellipse cx="564.8" cy="308.1" rx="1.52" ry="1.72"/>
<ellipse cx="566.9" cy="310.0" rx="1.52" ry="1.72"/>
<ellipse cx="556.1" cy="308.3" rx="1.52" ry="1.72"/>
<ellipse cx="554.3" cy="310.2" rx="1.52" ry="1.72"/>
<ellipse cx="555.2" cy="311.3" rx="1.52" ry="1.72"/>
<ellipse cx="558.4" cy="310.2" rx="1.52" ry="1.72"/>
<ellipse cx="576.2" cy="309.3" rx="1.52" ry="1.72"/>
<ellipse cx="578.6" cy="308.1" rx="1.52" ry="1.72"/>
<ellipse cx="580.6" cy="305.8" rx="1.52" ry="1.72"/>
<ellipse cx="583.4" cy="305.5" rx="1.52" ry="1.72"/>
<ellipse cx="586.7" cy="305.2" rx="1.52" ry="1.72"/>
<ellipse cx="581.7" cy="307.8" rx="1.52" ry="1.72"/>
<ellipse cx="584.3" cy="308.3" rx="1.52" ry="1.72"/>
<ellipse cx="585.9" cy="309.8" rx="1.52" ry="1.72"/>
<ellipse cx="582.5" cy="310.5" rx="1.52" ry="1.72"/>
<ellipse cx="582.1" cy="312.2" rx="1.52" ry="1.72"/>
<ellipse cx="588.8" cy="307.0" rx="1.52" ry="1.72"/>
<ellipse cx="590.0" cy="308.1" rx="1.52" ry="1.72"/>
<ellipse cx="592.6" cy="308.7" rx="1.52" ry="1.72"/>
<ellipse cx="592.0" cy="303.7" rx="1.52" ry="1.72"/>
<ellipse cx="594.4" cy="304.9" rx="1.52" ry="1.72"/>
<ellipse cx="596.5" cy="305.2" rx="1.52" ry="1.72"/>
<ellipse cx="600.0" cy="304.3" rx="1.52" ry="1.72"/>
<ellipse cx="575.1" cy="315.7" rx="1.52" ry="1.72"/>
<ellipse cx="551.7" cy="319.8" rx="1.52" ry="1.72"/>
<ellipse cx="565.2" cy="319.5" rx="1.52" ry="1.72"/>
<ellipse cx="574.5" cy="319.2" rx="1.52" ry="1.72"/>
<ellipse cx="577.1" cy="322.7" rx="1.52" ry="1.72"/>
<ellipse cx="587.3" cy="319.2" rx="1.52" ry="1.72"/>
<ellipse cx="595.5" cy="319.5" rx="1.52" ry="1.72"/>
<ellipse cx="551.7" cy="326.5" rx="1.52" ry="1.72"/>
<ellipse cx="562.4" cy="327.3" rx="1.52" ry="1.72"/>
<ellipse cx="566.4" cy="343.8" rx="1.52" ry="1.72"/>
<ellipse cx="610.9" cy="238.5" rx="1.52" ry="1.72"/>
<ellipse cx="608.3" cy="288.6" rx="1.52" ry="1.72"/>
<ellipse cx="617.3" cy="288.3" rx="1.52" ry="1.72"/>
<ellipse cx="659.1" cy="286.8" rx="1.52" ry="1.72"/>
<ellipse cx="606.6" cy="299.5" rx="1.52" ry="1.72"/>
<ellipse cx="610.3" cy="300.0" rx="1.52" ry="1.72"/>
<ellipse cx="627.6" cy="296.9" rx="1.52" ry="1.72"/>
<ellipse cx="634.9" cy="295.6" rx="1.52" ry="1.72"/>
<ellipse cx="606.3" cy="304.9" rx="1.52" ry="1.72"/>
<ellipse cx="608.3" cy="308.7" rx="1.52" ry="1.72"/>
<ellipse cx="634.6" cy="304.6" rx="1.52" ry="1.72"/>
<ellipse cx="625.8" cy="310.2" rx="1.52" ry="1.72"/>
<ellipse cx="651.8" cy="310.2" rx="1.52" ry="1.72"/>
<ellipse cx="610.5" cy="321.6" rx="1.52" ry="1.72"/>
<ellipse cx="618.8" cy="318.3" rx="1.52" ry="1.72"/>
<ellipse cx="620.3" cy="318.3" rx="1.52" ry="1.72"/>
<ellipse cx="630.5" cy="326.5" rx="1.52" ry="1.72"/>
<line x1="495.4" y1="301.3" x2="659.7" y2="298.5" stroke="#b04a55" stroke-width="0.85"/>
<line x1="487.5" y1="210.0" x2="487.5" y2="347.8" stroke="#b2b2b2" stroke-width="1"/>
<line x1="487.0" y1="347.3" x2="681.5" y2="347.3" stroke="#b2b2b2" stroke-width="1"/>
<line x1="484.5" y1="342.2" x2="487.5" y2="342.2" stroke="#666666" stroke-width="1"/>
<text transform="translate(483.1,342.2) rotate(-90)" font-size="6.5" fill="#1a1a1a" stroke="#1a1a1a" stroke-width="0" text-anchor="middle">-.05</text>
<line x1="484.5" y1="299.6" x2="487.5" y2="299.6" stroke="#666666" stroke-width="1"/>
<text transform="translate(483.1,299.6) rotate(-90)" font-size="6.5" fill="#1a1a1a" stroke="#1a1a1a" stroke-width="0" text-anchor="middle">0</text>
<line x1="484.5" y1="257.0" x2="487.5" y2="257.0" stroke="#666666" stroke-width="1"/>
<text transform="translate(483.1,257.0) rotate(-90)" font-size="6.5" fill="#1a1a1a" stroke="#1a1a1a" stroke-width="0" text-anchor="middle">.05</text>
<line x1="484.5" y1="214.4" x2="487.5" y2="214.4" stroke="#666666" stroke-width="1"/>
<text transform="translate(483.1,214.4) rotate(-90)" font-size="6.5" fill="#1a1a1a" stroke="#1a1a1a" stroke-width="0" text-anchor="middle">.1</text>
<line x1="491.4" y1="347.3" x2="491.4" y2="350.3" stroke="#666666" stroke-width="1"/>
<text x="491.4" y="357.8" font-size="6.5" fill="#1a1a1a" stroke="#1a1a1a" stroke-width="0" text-anchor="middle">-.2</text>
<line x1="528.8" y1="347.3" x2="528.8" y2="350.3" stroke="#666666" stroke-width="1"/>
<text x="528.8" y="357.8" font-size="6.5" fill="#1a1a1a" stroke="#1a1a1a" stroke-width="0" text-anchor="middle">-.1</text>
<line x1="566.3" y1="347.3" x2="566.3" y2="350.3" stroke="#666666" stroke-width="1"/>
<text x="566.3" y="357.8" font-size="6.5" fill="#1a1a1a" stroke="#1a1a1a" stroke-width="0" text-anchor="middle">0</text>
<line x1="603.8" y1="347.3" x2="603.8" y2="350.3" stroke="#666666" stroke-width="1"/>
<text x="603.8" y="357.8" font-size="6.5" fill="#1a1a1a" stroke="#1a1a1a" stroke-width="0" text-anchor="middle">.1</text>
<line x1="641.2" y1="347.3" x2="641.2" y2="350.3" stroke="#666666" stroke-width="1"/>
<text x="641.2" y="357.8" font-size="6.5" fill="#1a1a1a" stroke="#1a1a1a" stroke-width="0" text-anchor="middle">.2</text>
<line x1="678.7" y1="347.3" x2="678.7" y2="350.3" stroke="#666666" stroke-width="1"/>
<text x="678.7" y="357.8" font-size="6.5" fill="#1a1a1a" stroke="#1a1a1a" stroke-width="0" text-anchor="middle">.3</text>
<text x="547.9" y="198.3" font-size="9.0" fill="#2d3e6e" stroke="#2d3e6e" stroke-width="0.15" textLength="75.3" lengthAdjust="spacingAndGlyphs">Growth and Inequality</text>
<text x="506.3" y="208.3" font-size="7.4" fill="#1a1a1a" stroke="#1a1a1a" stroke-width="0.15" textLength="155.4" lengthAdjust="spacingAndGlyphs">1970 - 2010: controlling for initial income &amp; region effects</text>
<text x="607.0" y="228.9" font-size="7.0" fill="#1a1a1a" stroke="#1a1a1a" stroke-width="0.15" textLength="75.7" lengthAdjust="spacingAndGlyphs">corr = +0.0353 (p-val=0.6629)</text>
<text x="546.5" y="368.0" font-size="9.7" fill="#1a1a1a" stroke="#1a1a1a" stroke-width="0.15" textLength="70.5" lengthAdjust="spacingAndGlyphs">Initial Gini coefficient</text>
<text transform="translate(472.1,292.3) rotate(-90)" font-size="9.7" fill="#1a1a1a" stroke="#1a1a1a" stroke-width="0.15" textLength="30.6" lengthAdjust="spacingAndGlyphs">Growth</text></g>
</g></svg></body></html>
